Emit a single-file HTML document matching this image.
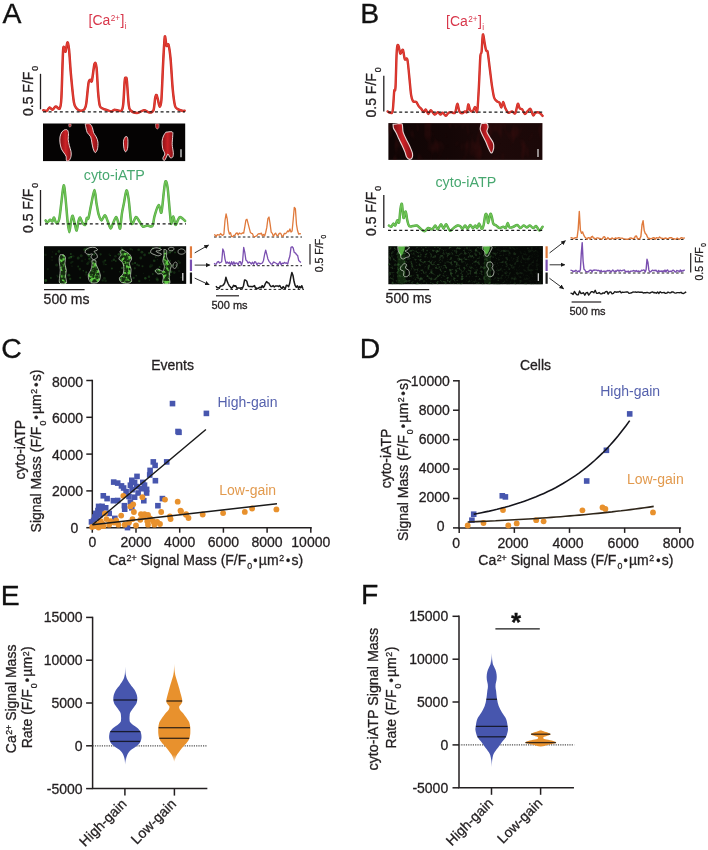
<!DOCTYPE html>
<html><head><meta charset="utf-8"><title>Figure</title>
<style>
html,body{margin:0;padding:0;background:#fff;}
svg{display:block;font-family:"Liberation Sans",Arial,Helvetica,sans-serif;}
</style></head>
<body>
<svg width="708" height="850" viewBox="0 0 708 850">
<rect width="708" height="850" fill="#fff"/>
<g opacity="0.999">
<text x="2.6" y="22.9" font-size="28.4" fill="#111" stroke="#111" stroke-width="0.3">A</text>
<text x="360.3" y="23.1" font-size="28.4" fill="#111" stroke="#111" stroke-width="0.3">B</text>
<text x="1.3" y="357.8" font-size="28.4" fill="#111" stroke="#111" stroke-width="0.3">C</text>
<text x="359.8" y="357.6" font-size="28.4" fill="#111" stroke="#111" stroke-width="0.3">D</text>
<text x="0.8" y="604.7" font-size="28.4" fill="#111" stroke="#111" stroke-width="0.3">E</text>
<text x="361" y="603.6" font-size="28.4" fill="#111" stroke="#111" stroke-width="0.3">F</text>
<text x="88.6" y="25" font-size="14" fill="#d8364a">[Ca<tspan font-size="8.2" dy="-4.2" dx="0.4">2+</tspan><tspan dy="4.2" dx="0.4">]</tspan><tspan font-size="8.2" dy="4" dx="0.3">i</tspan></text>
<path d="M43.3,110.2 C43.8,110.3 45.7,111.2 46.7,110.8 C47.7,110.4 48.7,107.6 49.6,107.4 C50.5,107.2 51.4,109.8 52.4,109.7 C53.4,109.6 54.6,106.8 55.8,106.6 C57.0,106.4 58.8,109.9 59.7,108.5 C60.6,107.1 60.9,107.1 61.4,97.8 C61.9,88.5 62.6,58.0 63.1,50.3 C63.6,42.6 64.4,49.6 64.8,49.8 C65.2,50.0 65.2,52.7 65.6,51.5 C66.0,50.3 66.9,42.8 67.4,42.4 C67.9,42.0 68.4,44.0 69.0,49.2 C69.6,54.4 70.2,66.7 71.0,75.2 C71.8,83.7 73.0,97.0 73.9,102.3 C74.8,107.6 75.6,107.1 76.7,108.5 C77.8,109.9 79.3,110.7 80.6,110.8 C81.9,110.9 83.7,110.3 84.6,109.1 C85.5,107.9 85.7,107.6 86.3,103.4 C86.9,99.2 87.9,86.9 88.5,83.1 C89.1,79.3 89.7,80.1 90.2,79.7 C90.7,79.3 91.2,83.3 91.9,80.8 C92.6,78.3 93.8,66.1 94.5,63.9 C95.2,61.7 95.9,62.8 96.5,67.3 C97.1,71.8 97.6,86.0 98.1,92.1 C98.6,98.2 99.1,103.1 99.8,105.7 C100.5,108.3 101.5,107.8 102.7,108.5 C103.9,109.2 105.8,109.7 107.2,110.2 C108.6,110.7 110.5,111.5 111.7,111.4 C112.9,111.3 113.0,109.8 114.5,109.7 C116.0,109.6 119.9,111.8 121.3,110.8 C122.7,109.8 122.8,108.2 123.3,103.4 C123.8,98.6 124.3,84.9 124.7,80.8 C125.1,76.7 125.4,78.0 125.8,78.0 C126.2,78.0 126.5,76.7 126.9,80.8 C127.3,84.9 128.1,98.7 128.6,103.4 C129.1,108.1 128.9,108.7 130.3,110.2 C131.7,111.7 134.9,113.0 137.1,113.0 C139.3,113.0 141.9,110.3 143.9,110.2 C145.9,110.1 148.0,112.5 149.5,112.5 C151.0,112.5 152.6,112.6 153.5,110.2 C154.4,107.8 154.7,100.2 155.2,97.8 C155.7,95.4 156.2,94.6 156.6,95.0 C157.0,95.4 157.5,98.1 158.0,100.0 C158.5,101.9 159.2,106.8 159.7,106.8 C160.2,106.8 160.9,106.9 161.4,100.0 C161.9,93.1 162.6,74.0 163.1,63.9 C163.6,53.8 164.3,39.7 164.8,36.8 C165.3,33.9 165.9,44.5 166.5,45.8 C167.1,47.1 167.9,42.7 168.5,44.7 C169.1,46.7 169.8,51.1 170.5,58.2 C171.2,65.3 172.0,81.2 172.7,88.8 C173.4,96.4 174.2,102.5 175.0,105.7 C175.8,108.9 176.6,108.3 177.8,109.1 C179.0,109.9 181.2,110.5 182.3,110.8 C183.4,111.1 184.2,110.8 184.6,110.8" fill="none" stroke="#c62a24" stroke-width="2.5" stroke-linejoin="round" stroke-linecap="round"/>
<path d="M43.3,110.2 C43.8,110.3 45.7,111.2 46.7,110.8 C47.7,110.4 48.7,107.6 49.6,107.4 C50.5,107.2 51.4,109.8 52.4,109.7 C53.4,109.6 54.6,106.8 55.8,106.6 C57.0,106.4 58.8,109.9 59.7,108.5 C60.6,107.1 60.9,107.1 61.4,97.8 C61.9,88.5 62.6,58.0 63.1,50.3 C63.6,42.6 64.4,49.6 64.8,49.8 C65.2,50.0 65.2,52.7 65.6,51.5 C66.0,50.3 66.9,42.8 67.4,42.4 C67.9,42.0 68.4,44.0 69.0,49.2 C69.6,54.4 70.2,66.7 71.0,75.2 C71.8,83.7 73.0,97.0 73.9,102.3 C74.8,107.6 75.6,107.1 76.7,108.5 C77.8,109.9 79.3,110.7 80.6,110.8 C81.9,110.9 83.7,110.3 84.6,109.1 C85.5,107.9 85.7,107.6 86.3,103.4 C86.9,99.2 87.9,86.9 88.5,83.1 C89.1,79.3 89.7,80.1 90.2,79.7 C90.7,79.3 91.2,83.3 91.9,80.8 C92.6,78.3 93.8,66.1 94.5,63.9 C95.2,61.7 95.9,62.8 96.5,67.3 C97.1,71.8 97.6,86.0 98.1,92.1 C98.6,98.2 99.1,103.1 99.8,105.7 C100.5,108.3 101.5,107.8 102.7,108.5 C103.9,109.2 105.8,109.7 107.2,110.2 C108.6,110.7 110.5,111.5 111.7,111.4 C112.9,111.3 113.0,109.8 114.5,109.7 C116.0,109.6 119.9,111.8 121.3,110.8 C122.7,109.8 122.8,108.2 123.3,103.4 C123.8,98.6 124.3,84.9 124.7,80.8 C125.1,76.7 125.4,78.0 125.8,78.0 C126.2,78.0 126.5,76.7 126.9,80.8 C127.3,84.9 128.1,98.7 128.6,103.4 C129.1,108.1 128.9,108.7 130.3,110.2 C131.7,111.7 134.9,113.0 137.1,113.0 C139.3,113.0 141.9,110.3 143.9,110.2 C145.9,110.1 148.0,112.5 149.5,112.5 C151.0,112.5 152.6,112.6 153.5,110.2 C154.4,107.8 154.7,100.2 155.2,97.8 C155.7,95.4 156.2,94.6 156.6,95.0 C157.0,95.4 157.5,98.1 158.0,100.0 C158.5,101.9 159.2,106.8 159.7,106.8 C160.2,106.8 160.9,106.9 161.4,100.0 C161.9,93.1 162.6,74.0 163.1,63.9 C163.6,53.8 164.3,39.7 164.8,36.8 C165.3,33.9 165.9,44.5 166.5,45.8 C167.1,47.1 167.9,42.7 168.5,44.7 C169.1,46.7 169.8,51.1 170.5,58.2 C171.2,65.3 172.0,81.2 172.7,88.8 C173.4,96.4 174.2,102.5 175.0,105.7 C175.8,108.9 176.6,108.3 177.8,109.1 C179.0,109.9 181.2,110.5 182.3,110.8 C183.4,111.1 184.2,110.8 184.6,110.8" fill="none" stroke="#e23c33" stroke-width="1.4" stroke-linejoin="round" stroke-linecap="round"/>
<line x1="43" y1="111.9" x2="185" y2="111.9" stroke="#1a1a1a" stroke-width="1.2" stroke-dasharray="3 2.6"/>
<line x1="40.5" y1="73.8" x2="40.5" y2="109.3" stroke="#231f20" stroke-width="1.3"/>
<text transform="translate(32.6,116) rotate(-90)" font-size="14" fill="#231f20" stroke="#231f20" stroke-width="0.3">0.5 F/F<tspan font-size="8.8" dy="5" dx="1">0</tspan></text>
<defs><linearGradient id="rg" x1="0" y1="0" x2="1" y2="0"><stop offset="0" stop-color="#861015"/><stop offset="0.5" stop-color="#cc2227"/><stop offset="1" stop-color="#861015"/></linearGradient></defs>
<rect x="43" y="123.5" width="142.2" height="37.6" fill="#050303"/>
<path d="M64.8,129.7 C65.2,129.7 66.8,129.4 67.4,130.0 C68.0,130.6 68.4,132.1 68.5,133.6 C68.6,135.1 68.1,137.6 68.2,139.5 C68.3,141.4 68.9,143.5 69.3,145.4 C69.7,147.3 70.7,149.6 71.0,151.4 C71.3,153.2 71.3,154.9 71.0,156.4 C70.7,157.9 69.8,159.8 69.1,160.5 C68.4,161.2 67.0,161.2 66.5,160.5 C66.0,159.8 66.5,157.6 66.1,156.4 C65.7,155.2 64.8,154.2 64.0,153.0 C63.2,151.8 62.0,150.4 61.4,148.8 C60.8,147.2 60.2,144.8 60.0,142.9 C59.8,141.0 59.7,138.7 60.0,136.9 C60.3,135.1 61.1,133.1 61.9,131.9 C62.7,130.7 64.3,130.1 64.8,129.7Z" fill="url(#rg)" stroke="#f0dede" stroke-width="0.95" opacity="1"/>
<path d="M85.2,123.9 C85.9,123.9 88.6,123.3 89.8,123.9 C91.0,124.5 91.8,126.2 92.4,127.6 C93.0,129.0 93.0,131.2 93.6,132.7 C94.2,134.2 95.5,135.4 96.2,136.9 C96.9,138.4 97.7,140.1 97.9,142.0 C98.1,143.9 97.9,147.1 97.5,148.8 C97.1,150.5 96.0,152.6 95.3,152.6 C94.6,152.6 93.7,150.4 93.2,148.8 C92.7,147.2 92.3,144.8 91.9,142.9 C91.5,141.0 91.4,138.5 90.7,136.9 C90.0,135.3 88.1,134.1 87.3,132.7 C86.5,131.3 86.3,129.4 86.0,128.0 C85.7,126.6 85.3,124.6 85.2,123.9Z" fill="url(#rg)" stroke="#f0dede" stroke-width="0.95" opacity="1"/>
<path d="M125.1,136.9 C125.4,136.9 126.8,136.2 127.2,136.9 C127.6,137.6 127.9,139.3 127.9,141.2 C127.9,143.1 127.9,146.9 127.5,148.6 C127.1,150.3 126.2,151.8 125.6,151.8 C125.0,151.8 124.3,150.3 124.0,148.6 C123.7,146.9 123.3,143.1 123.5,141.2 C123.7,139.3 124.8,137.6 125.1,136.9Z" fill="url(#rg)" stroke="#f0dede" stroke-width="0.95" opacity="1"/>
<path d="M165.8,132.2 C166.8,132.2 171.1,131.3 172.2,131.9 C173.3,132.5 172.7,133.9 172.7,135.9 C172.7,137.9 172.1,141.7 172.2,144.4 C172.3,147.1 173.2,150.8 173.3,152.8 C173.4,154.8 173.2,156.3 172.7,157.1 C172.2,157.9 170.9,158.1 170.1,157.6 C169.3,157.1 168.6,154.0 168.0,153.9 C167.4,153.8 167.0,156.0 166.4,157.1 C165.8,158.2 164.9,160.4 164.3,160.6 C163.7,160.8 162.8,159.2 162.9,158.1 C163.0,157.0 164.8,155.4 164.8,153.9 C164.8,152.4 163.1,150.6 162.7,148.6 C162.3,146.6 162.0,143.2 162.1,141.2 C162.2,139.2 162.9,137.3 163.5,135.9 C164.1,134.5 165.4,132.8 165.8,132.2Z" fill="url(#rg)" stroke="#f0dede" stroke-width="0.95" opacity="1"/>
<path d="M68.9,124.0 C69.2,124.0 70.6,123.6 70.9,124.0 C71.2,124.4 71.2,125.7 71.0,126.2 C70.8,126.7 70.3,127.0 69.9,127.0 C69.5,127.0 69.0,126.7 68.8,126.2 C68.6,125.7 68.9,124.4 68.9,124.0Z" fill="url(#rg)" stroke="#f0dede" stroke-width="0.5" opacity="1"/>
<path d="M155.5,123.9 C156.0,123.9 158.3,123.3 158.8,123.9 C159.3,124.5 159.0,126.7 158.8,127.5 C158.6,128.3 157.8,129.0 157.3,129.0 C156.8,129.0 156.1,128.3 155.8,127.5 C155.5,126.7 155.5,124.5 155.5,123.9Z" fill="url(#rg)" stroke="#f0dede" stroke-width="0.5" opacity="1"/>
<line x1="181" y1="149.3" x2="181" y2="157.2" stroke="#ececec" stroke-width="1.2"/>
<text x="83.8" y="179.7" font-size="14.3" fill="#48a870">cyto-iATP</text>
<path d="M45.6,220.4 C45.9,220.8 46.6,222.7 47.3,222.6 C48.0,222.5 49.3,220.0 50.1,219.8 C50.9,219.6 51.8,221.9 52.4,221.5 C53.0,221.1 53.5,217.2 54.1,217.5 C54.7,217.8 55.5,222.9 56.3,223.2 C57.1,223.5 58.4,222.5 59.2,219.2 C60.0,215.9 60.7,207.7 61.4,202.3 C62.1,196.9 63.0,185.8 63.7,185.3 C64.4,184.8 65.0,193.1 65.6,198.9 C66.2,204.7 67.0,216.2 67.6,221.5 C68.2,226.8 68.8,232.2 69.3,232.2 C69.8,232.2 70.5,224.1 71.0,221.5 C71.5,218.9 72.1,215.3 72.7,215.8 C73.3,216.3 74.4,222.5 75.0,224.9 C75.6,227.3 76.2,231.0 76.7,230.5 C77.2,230.0 77.9,223.6 78.4,221.5 C78.9,219.4 79.5,217.3 80.1,217.5 C80.7,217.7 81.5,221.4 82.3,222.6 C83.1,223.8 84.5,225.6 85.2,224.9 C85.9,224.2 86.3,219.2 86.8,218.1 C87.3,217.0 87.8,220.5 88.5,218.1 C89.2,215.7 90.4,207.9 91.4,203.4 C92.4,198.9 93.7,189.9 94.5,189.9 C95.3,189.9 95.8,199.4 96.5,203.4 C97.2,207.4 97.9,212.0 98.7,214.7 C99.5,217.4 100.5,220.3 101.5,220.4 C102.5,220.5 103.9,215.1 104.9,215.3 C105.9,215.5 106.9,219.4 107.8,221.5 C108.7,223.6 109.8,227.9 110.6,228.3 C111.4,228.7 111.9,225.6 112.8,223.8 C113.7,222.0 115.3,217.0 116.2,217.0 C117.1,217.0 117.9,222.0 118.5,223.8 C119.1,225.6 119.7,229.9 120.2,228.3 C120.7,226.7 121.3,217.8 121.9,213.6 C122.5,209.4 123.4,206.0 124.1,202.3 C124.8,198.6 125.7,190.9 126.4,190.4 C127.1,189.9 127.9,194.1 128.6,198.9 C129.3,203.7 130.3,216.4 130.9,220.4 C131.5,224.4 131.8,224.3 132.6,223.8 C133.4,223.3 134.9,217.4 136.0,217.0 C137.1,216.6 138.3,220.0 139.4,221.5 C140.5,223.0 141.5,226.0 142.8,226.6 C144.1,227.2 145.8,225.6 147.3,225.5 C148.8,225.4 151.2,227.6 152.4,226.0 C153.6,224.4 153.6,219.1 154.6,215.8 C155.6,212.5 157.5,205.6 158.6,205.1 C159.7,204.6 160.6,214.4 161.4,212.5 C162.2,210.6 163.1,198.2 163.7,193.2 C164.3,188.2 164.8,182.3 165.4,181.4 C166.0,180.5 166.9,182.6 167.6,187.6 C168.3,192.6 169.3,206.7 169.9,212.5 C170.5,218.3 170.7,223.2 171.2,223.8 C171.7,224.4 172.6,216.2 173.3,216.4 C174.0,216.6 174.8,224.3 175.5,224.9 C176.2,225.5 177.1,221.7 177.8,220.4 C178.5,219.1 178.9,216.9 180.1,217.0 C181.3,217.1 184.3,220.3 185.1,220.9" fill="none" stroke="#4ea53e" stroke-width="2.5" stroke-linejoin="round" stroke-linecap="round"/>
<path d="M45.6,220.4 C45.9,220.8 46.6,222.7 47.3,222.6 C48.0,222.5 49.3,220.0 50.1,219.8 C50.9,219.6 51.8,221.9 52.4,221.5 C53.0,221.1 53.5,217.2 54.1,217.5 C54.7,217.8 55.5,222.9 56.3,223.2 C57.1,223.5 58.4,222.5 59.2,219.2 C60.0,215.9 60.7,207.7 61.4,202.3 C62.1,196.9 63.0,185.8 63.7,185.3 C64.4,184.8 65.0,193.1 65.6,198.9 C66.2,204.7 67.0,216.2 67.6,221.5 C68.2,226.8 68.8,232.2 69.3,232.2 C69.8,232.2 70.5,224.1 71.0,221.5 C71.5,218.9 72.1,215.3 72.7,215.8 C73.3,216.3 74.4,222.5 75.0,224.9 C75.6,227.3 76.2,231.0 76.7,230.5 C77.2,230.0 77.9,223.6 78.4,221.5 C78.9,219.4 79.5,217.3 80.1,217.5 C80.7,217.7 81.5,221.4 82.3,222.6 C83.1,223.8 84.5,225.6 85.2,224.9 C85.9,224.2 86.3,219.2 86.8,218.1 C87.3,217.0 87.8,220.5 88.5,218.1 C89.2,215.7 90.4,207.9 91.4,203.4 C92.4,198.9 93.7,189.9 94.5,189.9 C95.3,189.9 95.8,199.4 96.5,203.4 C97.2,207.4 97.9,212.0 98.7,214.7 C99.5,217.4 100.5,220.3 101.5,220.4 C102.5,220.5 103.9,215.1 104.9,215.3 C105.9,215.5 106.9,219.4 107.8,221.5 C108.7,223.6 109.8,227.9 110.6,228.3 C111.4,228.7 111.9,225.6 112.8,223.8 C113.7,222.0 115.3,217.0 116.2,217.0 C117.1,217.0 117.9,222.0 118.5,223.8 C119.1,225.6 119.7,229.9 120.2,228.3 C120.7,226.7 121.3,217.8 121.9,213.6 C122.5,209.4 123.4,206.0 124.1,202.3 C124.8,198.6 125.7,190.9 126.4,190.4 C127.1,189.9 127.9,194.1 128.6,198.9 C129.3,203.7 130.3,216.4 130.9,220.4 C131.5,224.4 131.8,224.3 132.6,223.8 C133.4,223.3 134.9,217.4 136.0,217.0 C137.1,216.6 138.3,220.0 139.4,221.5 C140.5,223.0 141.5,226.0 142.8,226.6 C144.1,227.2 145.8,225.6 147.3,225.5 C148.8,225.4 151.2,227.6 152.4,226.0 C153.6,224.4 153.6,219.1 154.6,215.8 C155.6,212.5 157.5,205.6 158.6,205.1 C159.7,204.6 160.6,214.4 161.4,212.5 C162.2,210.6 163.1,198.2 163.7,193.2 C164.3,188.2 164.8,182.3 165.4,181.4 C166.0,180.5 166.9,182.6 167.6,187.6 C168.3,192.6 169.3,206.7 169.9,212.5 C170.5,218.3 170.7,223.2 171.2,223.8 C171.7,224.4 172.6,216.2 173.3,216.4 C174.0,216.6 174.8,224.3 175.5,224.9 C176.2,225.5 177.1,221.7 177.8,220.4 C178.5,219.1 178.9,216.9 180.1,217.0 C181.3,217.1 184.3,220.3 185.1,220.9" fill="none" stroke="#70c457" stroke-width="1.4" stroke-linejoin="round" stroke-linecap="round"/>
<line x1="45" y1="223.8" x2="186" y2="223.8" stroke="#1a1a1a" stroke-width="1.2" stroke-dasharray="3 2.6"/>
<line x1="40.5" y1="190" x2="40.5" y2="225.8" stroke="#231f20" stroke-width="1.3"/>
<text transform="translate(32.6,233) rotate(-90)" font-size="14" fill="#231f20" stroke="#231f20" stroke-width="0.3">0.5 F/F<tspan font-size="8.8" dy="5" dx="1">0</tspan></text>
<defs><filter id="bl" x="-5%" y="-5%" width="110%" height="110%"><feGaussianBlur stdDeviation="0.45"/></filter></defs>
<rect x="44" y="246.2" width="142.2" height="37.7" fill="#060806"/>
<g filter="url(#bl)"><circle cx="78.2" cy="266.5" r="0.9" fill="#3f9a3a" opacity="0.28"/><circle cx="132.3" cy="249.8" r="0.6" fill="#3f9a3a" opacity="0.35"/><circle cx="81.2" cy="255.7" r="1.5" fill="#3f9a3a" opacity="0.24"/><circle cx="161.7" cy="264.2" r="1.2" fill="#3f9a3a" opacity="0.15"/><circle cx="133.6" cy="277.9" r="1.1" fill="#3f9a3a" opacity="0.32"/><circle cx="138.7" cy="249.7" r="1.3" fill="#3f9a3a" opacity="0.28"/><circle cx="87.0" cy="248.6" r="1.4" fill="#3f9a3a" opacity="0.24"/><circle cx="145.3" cy="278.3" r="1.2" fill="#3f9a3a" opacity="0.38"/><circle cx="100.1" cy="275.5" r="1.0" fill="#3f9a3a" opacity="0.38"/><circle cx="167.6" cy="250.9" r="0.7" fill="#3f9a3a" opacity="0.17"/><circle cx="179.7" cy="262.8" r="1.2" fill="#3f9a3a" opacity="0.19"/><circle cx="115.8" cy="261.0" r="0.9" fill="#3f9a3a" opacity="0.28"/><circle cx="126.5" cy="279.1" r="1.2" fill="#3f9a3a" opacity="0.38"/><circle cx="164.5" cy="282.2" r="1.2" fill="#3f9a3a" opacity="0.15"/><circle cx="165.1" cy="281.3" r="1.4" fill="#3f9a3a" opacity="0.27"/><circle cx="144.6" cy="254.9" r="1.3" fill="#3f9a3a" opacity="0.27"/><circle cx="84.8" cy="249.7" r="1.4" fill="#3f9a3a" opacity="0.40"/><circle cx="57.3" cy="275.5" r="1.0" fill="#3f9a3a" opacity="0.15"/><circle cx="86.0" cy="274.4" r="1.4" fill="#3f9a3a" opacity="0.11"/><circle cx="130.7" cy="249.1" r="1.2" fill="#3f9a3a" opacity="0.20"/><circle cx="167.9" cy="281.8" r="1.1" fill="#3f9a3a" opacity="0.40"/><circle cx="88.2" cy="250.2" r="1.1" fill="#3f9a3a" opacity="0.11"/><circle cx="72.5" cy="261.8" r="1.1" fill="#3f9a3a" opacity="0.15"/><circle cx="50.9" cy="277.9" r="0.9" fill="#3f9a3a" opacity="0.39"/><circle cx="170.1" cy="260.7" r="1.0" fill="#3f9a3a" opacity="0.26"/><circle cx="134.8" cy="268.3" r="1.1" fill="#3f9a3a" opacity="0.29"/><circle cx="176.2" cy="265.2" r="1.0" fill="#3f9a3a" opacity="0.32"/><circle cx="78.2" cy="258.0" r="1.5" fill="#3f9a3a" opacity="0.26"/><circle cx="121.5" cy="247.9" r="1.0" fill="#3f9a3a" opacity="0.27"/><circle cx="47.8" cy="269.1" r="1.2" fill="#3f9a3a" opacity="0.12"/><circle cx="132.5" cy="263.8" r="1.2" fill="#3f9a3a" opacity="0.21"/><circle cx="143.6" cy="273.3" r="0.6" fill="#3f9a3a" opacity="0.12"/><circle cx="139.3" cy="281.2" r="0.8" fill="#3f9a3a" opacity="0.24"/><circle cx="127.7" cy="258.7" r="0.9" fill="#3f9a3a" opacity="0.19"/><circle cx="96.5" cy="268.3" r="0.9" fill="#3f9a3a" opacity="0.21"/><circle cx="152.7" cy="248.4" r="1.1" fill="#3f9a3a" opacity="0.32"/><circle cx="88.2" cy="255.3" r="1.3" fill="#3f9a3a" opacity="0.17"/><circle cx="71.1" cy="262.7" r="1.2" fill="#3f9a3a" opacity="0.13"/><circle cx="89.9" cy="259.2" r="1.4" fill="#3f9a3a" opacity="0.23"/><circle cx="164.3" cy="253.4" r="0.9" fill="#3f9a3a" opacity="0.30"/><circle cx="168.4" cy="263.3" r="0.8" fill="#3f9a3a" opacity="0.14"/><circle cx="118.9" cy="254.2" r="1.3" fill="#3f9a3a" opacity="0.35"/><circle cx="70.6" cy="257.3" r="1.3" fill="#3f9a3a" opacity="0.29"/><circle cx="157.5" cy="259.6" r="0.7" fill="#3f9a3a" opacity="0.19"/><circle cx="155.7" cy="257.0" r="0.9" fill="#3f9a3a" opacity="0.23"/><circle cx="103.6" cy="261.8" r="1.4" fill="#3f9a3a" opacity="0.15"/><circle cx="45.7" cy="280.5" r="1.4" fill="#3f9a3a" opacity="0.40"/><circle cx="105.6" cy="280.8" r="1.4" fill="#3f9a3a" opacity="0.17"/><circle cx="149.0" cy="276.8" r="1.2" fill="#3f9a3a" opacity="0.26"/><circle cx="85.3" cy="259.4" r="0.8" fill="#3f9a3a" opacity="0.12"/><circle cx="127.1" cy="257.5" r="1.3" fill="#3f9a3a" opacity="0.11"/><circle cx="171.1" cy="271.8" r="1.4" fill="#3f9a3a" opacity="0.37"/><circle cx="170.5" cy="267.7" r="0.6" fill="#3f9a3a" opacity="0.32"/><circle cx="69.0" cy="258.0" r="1.2" fill="#3f9a3a" opacity="0.26"/><circle cx="102.7" cy="280.4" r="1.2" fill="#3f9a3a" opacity="0.20"/><circle cx="80.2" cy="277.7" r="1.0" fill="#3f9a3a" opacity="0.33"/><circle cx="94.1" cy="254.4" r="1.1" fill="#3f9a3a" opacity="0.35"/><circle cx="68.9" cy="275.2" r="1.4" fill="#3f9a3a" opacity="0.34"/><circle cx="159.9" cy="247.8" r="1.2" fill="#3f9a3a" opacity="0.36"/><circle cx="52.0" cy="257.0" r="0.8" fill="#3f9a3a" opacity="0.26"/><circle cx="104.0" cy="264.1" r="1.3" fill="#3f9a3a" opacity="0.10"/><circle cx="52.6" cy="251.9" r="0.7" fill="#3f9a3a" opacity="0.12"/><circle cx="181.0" cy="277.4" r="0.7" fill="#3f9a3a" opacity="0.25"/><circle cx="89.1" cy="258.5" r="0.9" fill="#3f9a3a" opacity="0.29"/><circle cx="126.8" cy="260.1" r="0.8" fill="#3f9a3a" opacity="0.20"/><circle cx="62.3" cy="266.9" r="1.2" fill="#3f9a3a" opacity="0.21"/><circle cx="56.1" cy="253.7" r="0.9" fill="#3f9a3a" opacity="0.28"/><circle cx="154.2" cy="260.8" r="1.3" fill="#3f9a3a" opacity="0.29"/><circle cx="105.2" cy="260.5" r="1.0" fill="#3f9a3a" opacity="0.31"/><circle cx="103.7" cy="271.8" r="1.0" fill="#3f9a3a" opacity="0.17"/><circle cx="119.7" cy="271.8" r="0.7" fill="#3f9a3a" opacity="0.23"/><circle cx="104.4" cy="278.3" r="1.4" fill="#3f9a3a" opacity="0.21"/><circle cx="170.3" cy="275.2" r="0.8" fill="#3f9a3a" opacity="0.24"/><circle cx="62.2" cy="276.0" r="1.2" fill="#3f9a3a" opacity="0.37"/><circle cx="155.5" cy="270.9" r="1.3" fill="#3f9a3a" opacity="0.27"/><circle cx="59.4" cy="268.1" r="0.6" fill="#3f9a3a" opacity="0.14"/><circle cx="153.0" cy="249.1" r="0.7" fill="#3f9a3a" opacity="0.13"/><circle cx="167.8" cy="253.8" r="0.6" fill="#3f9a3a" opacity="0.35"/><circle cx="61.9" cy="277.0" r="1.2" fill="#3f9a3a" opacity="0.35"/><circle cx="177.9" cy="267.8" r="1.3" fill="#3f9a3a" opacity="0.11"/><circle cx="152.1" cy="265.4" r="1.2" fill="#3f9a3a" opacity="0.13"/><circle cx="149.5" cy="280.2" r="0.7" fill="#3f9a3a" opacity="0.20"/><circle cx="123.7" cy="276.5" r="0.8" fill="#3f9a3a" opacity="0.15"/><circle cx="79.9" cy="269.1" r="1.3" fill="#3f9a3a" opacity="0.22"/><circle cx="96.3" cy="261.4" r="0.9" fill="#3f9a3a" opacity="0.23"/><circle cx="56.6" cy="265.0" r="1.5" fill="#3f9a3a" opacity="0.22"/><circle cx="149.3" cy="253.1" r="1.2" fill="#3f9a3a" opacity="0.33"/><circle cx="139.0" cy="265.6" r="1.0" fill="#3f9a3a" opacity="0.29"/><circle cx="170.2" cy="252.7" r="0.7" fill="#3f9a3a" opacity="0.32"/><circle cx="172.9" cy="265.6" r="1.0" fill="#3f9a3a" opacity="0.32"/><circle cx="71.0" cy="256.9" r="0.8" fill="#3f9a3a" opacity="0.28"/><circle cx="88.9" cy="255.6" r="1.2" fill="#3f9a3a" opacity="0.39"/><circle cx="86.3" cy="272.2" r="1.0" fill="#3f9a3a" opacity="0.36"/><circle cx="126.6" cy="256.9" r="0.8" fill="#3f9a3a" opacity="0.11"/><circle cx="111.9" cy="260.9" r="0.8" fill="#3f9a3a" opacity="0.21"/><circle cx="89.9" cy="274.6" r="0.7" fill="#3f9a3a" opacity="0.40"/><circle cx="111.9" cy="268.5" r="1.0" fill="#3f9a3a" opacity="0.35"/><circle cx="159.6" cy="267.0" r="1.0" fill="#3f9a3a" opacity="0.32"/><circle cx="164.5" cy="261.5" r="1.3" fill="#3f9a3a" opacity="0.39"/><circle cx="110.2" cy="255.5" r="0.8" fill="#3f9a3a" opacity="0.32"/><circle cx="139.2" cy="281.1" r="1.4" fill="#3f9a3a" opacity="0.17"/><circle cx="71.5" cy="256.6" r="0.8" fill="#3f9a3a" opacity="0.31"/><circle cx="164.8" cy="279.0" r="0.8" fill="#3f9a3a" opacity="0.36"/><circle cx="88.7" cy="262.3" r="1.3" fill="#3f9a3a" opacity="0.13"/><circle cx="57.9" cy="276.7" r="0.9" fill="#3f9a3a" opacity="0.21"/><circle cx="126.0" cy="271.1" r="0.6" fill="#3f9a3a" opacity="0.20"/><circle cx="105.9" cy="264.5" r="0.8" fill="#3f9a3a" opacity="0.28"/><circle cx="178.3" cy="261.2" r="1.1" fill="#3f9a3a" opacity="0.14"/><circle cx="83.3" cy="270.8" r="0.7" fill="#3f9a3a" opacity="0.37"/><circle cx="171.8" cy="250.9" r="1.4" fill="#3f9a3a" opacity="0.21"/><circle cx="152.8" cy="274.0" r="0.9" fill="#3f9a3a" opacity="0.30"/><circle cx="136.2" cy="275.7" r="0.8" fill="#3f9a3a" opacity="0.33"/><circle cx="179.1" cy="271.0" r="1.1" fill="#3f9a3a" opacity="0.13"/><circle cx="113.9" cy="259.8" r="1.2" fill="#3f9a3a" opacity="0.30"/><circle cx="124.0" cy="253.9" r="1.2" fill="#3f9a3a" opacity="0.29"/><circle cx="70.0" cy="278.6" r="1.2" fill="#3f9a3a" opacity="0.14"/><circle cx="175.0" cy="252.4" r="0.9" fill="#3f9a3a" opacity="0.32"/><circle cx="128.3" cy="266.9" r="1.2" fill="#3f9a3a" opacity="0.24"/><circle cx="88.6" cy="253.7" r="0.7" fill="#3f9a3a" opacity="0.31"/><circle cx="150.3" cy="266.5" r="1.3" fill="#3f9a3a" opacity="0.21"/><circle cx="82.1" cy="260.9" r="1.4" fill="#3f9a3a" opacity="0.11"/><circle cx="115.4" cy="256.2" r="1.3" fill="#3f9a3a" opacity="0.21"/><circle cx="91.4" cy="261.6" r="1.1" fill="#3f9a3a" opacity="0.33"/><circle cx="94.2" cy="277.1" r="0.7" fill="#3f9a3a" opacity="0.18"/><circle cx="58.9" cy="251.4" r="1.3" fill="#3f9a3a" opacity="0.32"/><circle cx="70.8" cy="254.1" r="1.0" fill="#3f9a3a" opacity="0.32"/><circle cx="158.8" cy="273.7" r="1.1" fill="#3f9a3a" opacity="0.14"/><circle cx="100.6" cy="254.3" r="1.1" fill="#3f9a3a" opacity="0.27"/><circle cx="73.2" cy="256.3" r="1.3" fill="#3f9a3a" opacity="0.11"/><circle cx="157.0" cy="278.7" r="1.5" fill="#3f9a3a" opacity="0.21"/><circle cx="122.1" cy="267.9" r="1.2" fill="#3f9a3a" opacity="0.39"/><circle cx="140.8" cy="258.0" r="1.4" fill="#3f9a3a" opacity="0.25"/><circle cx="128.9" cy="272.9" r="0.6" fill="#3f9a3a" opacity="0.33"/><circle cx="137.3" cy="264.7" r="1.1" fill="#3f9a3a" opacity="0.24"/><circle cx="72.0" cy="266.0" r="0.6" fill="#3f9a3a" opacity="0.25"/><circle cx="135.1" cy="263.0" r="1.1" fill="#3f9a3a" opacity="0.39"/><circle cx="169.4" cy="252.2" r="1.3" fill="#3f9a3a" opacity="0.29"/><circle cx="52.1" cy="260.1" r="0.8" fill="#3f9a3a" opacity="0.12"/><circle cx="120.2" cy="280.0" r="0.9" fill="#3f9a3a" opacity="0.36"/><circle cx="141.9" cy="252.2" r="1.4" fill="#3f9a3a" opacity="0.28"/><circle cx="174.3" cy="272.6" r="1.3" fill="#3f9a3a" opacity="0.20"/><circle cx="157.5" cy="280.1" r="1.4" fill="#3f9a3a" opacity="0.23"/><circle cx="150.6" cy="264.5" r="0.7" fill="#3f9a3a" opacity="0.11"/><circle cx="55.9" cy="254.5" r="0.7" fill="#3f9a3a" opacity="0.25"/><circle cx="142.5" cy="266.3" r="1.0" fill="#3f9a3a" opacity="0.29"/><circle cx="87.5" cy="263.8" r="1.3" fill="#3f9a3a" opacity="0.22"/><circle cx="70.2" cy="279.0" r="1.2" fill="#3f9a3a" opacity="0.21"/><circle cx="96.8" cy="266.0" r="1.1" fill="#3f9a3a" opacity="0.17"/><circle cx="45.4" cy="254.8" r="1.3" fill="#3f9a3a" opacity="0.14"/><circle cx="109.2" cy="254.3" r="0.8" fill="#3f9a3a" opacity="0.15"/></g>
<defs><filter id="mt" x="-10%" y="-10%" width="120%" height="120%" color-interpolation-filters="sRGB"><feTurbulence type="fractalNoise" baseFrequency="0.32" numOctaves="2" seed="4" result="n"/><feColorMatrix in="n" type="matrix" values="0 0 0 0 0  0 0 0 0 0  0 0 0 0 0  0 0 0 -4.5 2.45" result="a"/><feComposite in="SourceGraphic" in2="a" operator="in"/></filter></defs>
<path d="M60.0,254.8 C60.6,254.8 62.6,254.3 63.5,254.8 C64.4,255.3 65.3,256.5 65.5,258.0 C65.7,259.5 64.9,262.1 65.0,264.0 C65.1,265.9 66.2,268.1 66.3,270.0 C66.4,271.9 65.6,273.9 65.6,276.0 C65.6,278.1 67.2,282.0 66.3,283.2 C65.4,284.4 60.9,284.2 59.8,283.2 C58.7,282.2 59.5,279.1 59.6,277.0 C59.7,274.9 60.3,272.2 60.3,270.0 C60.3,267.8 59.6,264.9 59.4,263.0 C59.2,261.1 59.1,259.3 59.2,258.0 C59.3,256.7 59.9,255.3 60.0,254.8Z" fill="#2a6420" opacity="0.42"/>
<path d="M60.0,254.8 C60.6,254.8 62.6,254.3 63.5,254.8 C64.4,255.3 65.3,256.5 65.5,258.0 C65.7,259.5 64.9,262.1 65.0,264.0 C65.1,265.9 66.2,268.1 66.3,270.0 C66.4,271.9 65.6,273.9 65.6,276.0 C65.6,278.1 67.2,282.0 66.3,283.2 C65.4,284.4 60.9,284.2 59.8,283.2 C58.7,282.2 59.5,279.1 59.6,277.0 C59.7,274.9 60.3,272.2 60.3,270.0 C60.3,267.8 59.6,264.9 59.4,263.0 C59.2,261.1 59.1,259.3 59.2,258.0 C59.3,256.7 59.9,255.3 60.0,254.8Z" fill="#5cc742" filter="url(#mt)"/>
<path d="M60.0,254.8 C60.6,254.8 62.6,254.3 63.5,254.8 C64.4,255.3 65.3,256.5 65.5,258.0 C65.7,259.5 64.9,262.1 65.0,264.0 C65.1,265.9 66.2,268.1 66.3,270.0 C66.4,271.9 65.6,273.9 65.6,276.0 C65.6,278.1 67.2,282.0 66.3,283.2 C65.4,284.4 60.9,284.2 59.8,283.2 C58.7,282.2 59.5,279.1 59.6,277.0 C59.7,274.9 60.3,272.2 60.3,270.0 C60.3,267.8 59.6,264.9 59.4,263.0 C59.2,261.1 59.1,259.3 59.2,258.0 C59.3,256.7 59.9,255.3 60.0,254.8Z" fill="none" stroke="#dfe6da" stroke-width="0.7" opacity="0.9"/>
<path d="M86.0,249.5 C86.6,249.2 88.6,247.9 90.0,247.6 C91.4,247.3 93.8,247.1 95.0,247.5 C96.2,247.9 97.7,249.4 97.5,250.0 C97.3,250.6 94.2,250.9 94.0,251.5 C93.8,252.1 96.0,253.0 96.5,254.0 C97.0,255.0 97.7,256.6 97.2,257.5 C96.7,258.4 94.5,259.6 93.5,259.5 C92.5,259.4 91.2,257.9 91.0,257.0 C90.8,256.1 92.9,254.4 92.5,254.0 C92.1,253.6 89.7,254.7 88.5,254.5 C87.3,254.3 85.6,253.3 85.2,252.5 C84.8,251.7 85.9,250.0 86.0,249.5Z" fill="none" stroke="#dfe6da" stroke-width="0.7"/>
<path d="M92.0,260.3 C92.6,260.3 94.8,259.7 95.5,260.5 C96.2,261.3 95.8,263.6 96.3,265.0 C96.8,266.4 97.9,267.9 98.5,269.5 C99.1,271.1 100.1,273.3 100.3,275.0 C100.5,276.7 100.2,278.8 99.6,280.0 C99.0,281.2 97.8,282.4 96.5,282.8 C95.2,283.2 92.7,283.3 91.5,282.8 C90.3,282.3 89.3,280.8 88.8,279.5 C88.3,278.2 88.0,276.0 88.3,274.5 C88.6,273.0 90.2,271.5 90.8,270.0 C91.4,268.5 91.8,266.6 92.0,265.0 C92.2,263.4 92.0,261.1 92.0,260.3Z" fill="#2a6420" opacity="0.42"/>
<path d="M92.0,260.3 C92.6,260.3 94.8,259.7 95.5,260.5 C96.2,261.3 95.8,263.6 96.3,265.0 C96.8,266.4 97.9,267.9 98.5,269.5 C99.1,271.1 100.1,273.3 100.3,275.0 C100.5,276.7 100.2,278.8 99.6,280.0 C99.0,281.2 97.8,282.4 96.5,282.8 C95.2,283.2 92.7,283.3 91.5,282.8 C90.3,282.3 89.3,280.8 88.8,279.5 C88.3,278.2 88.0,276.0 88.3,274.5 C88.6,273.0 90.2,271.5 90.8,270.0 C91.4,268.5 91.8,266.6 92.0,265.0 C92.2,263.4 92.0,261.1 92.0,260.3Z" fill="#5cc742" filter="url(#mt)"/>
<path d="M92.0,260.3 C92.6,260.3 94.8,259.7 95.5,260.5 C96.2,261.3 95.8,263.6 96.3,265.0 C96.8,266.4 97.9,267.9 98.5,269.5 C99.1,271.1 100.1,273.3 100.3,275.0 C100.5,276.7 100.2,278.8 99.6,280.0 C99.0,281.2 97.8,282.4 96.5,282.8 C95.2,283.2 92.7,283.3 91.5,282.8 C90.3,282.3 89.3,280.8 88.8,279.5 C88.3,278.2 88.0,276.0 88.3,274.5 C88.6,273.0 90.2,271.5 90.8,270.0 C91.4,268.5 91.8,266.6 92.0,265.0 C92.2,263.4 92.0,261.1 92.0,260.3Z" fill="none" stroke="#dfe6da" stroke-width="0.7" opacity="0.9"/>
<path d="M122.1,249.4 C122.7,249.7 124.5,250.7 125.8,251.5 C127.1,252.3 129.1,253.5 130.0,254.7 C130.9,255.9 131.7,257.6 131.6,259.0 C131.5,260.4 129.6,261.5 129.5,263.2 C129.4,264.9 130.9,267.5 131.1,269.5 C131.3,271.5 130.4,274.0 130.5,275.9 C130.6,277.8 132.0,280.0 131.6,281.2 C131.2,282.4 129.5,283.1 127.9,283.3 C126.3,283.5 122.9,283.1 121.5,282.3 C120.1,281.5 119.1,279.4 119.4,278.0 C119.7,276.6 122.4,275.7 123.1,273.8 C123.8,271.9 123.9,268.3 123.7,266.4 C123.5,264.5 122.9,263.3 122.1,262.1 C121.3,260.9 119.1,260.1 118.9,258.9 C118.7,257.7 120.8,255.9 121.0,254.7 C121.2,253.5 119.8,252.3 120.0,251.5 C120.2,250.7 121.8,249.7 122.1,249.4Z" fill="#2a6420" opacity="0.42"/>
<path d="M122.1,249.4 C122.7,249.7 124.5,250.7 125.8,251.5 C127.1,252.3 129.1,253.5 130.0,254.7 C130.9,255.9 131.7,257.6 131.6,259.0 C131.5,260.4 129.6,261.5 129.5,263.2 C129.4,264.9 130.9,267.5 131.1,269.5 C131.3,271.5 130.4,274.0 130.5,275.9 C130.6,277.8 132.0,280.0 131.6,281.2 C131.2,282.4 129.5,283.1 127.9,283.3 C126.3,283.5 122.9,283.1 121.5,282.3 C120.1,281.5 119.1,279.4 119.4,278.0 C119.7,276.6 122.4,275.7 123.1,273.8 C123.8,271.9 123.9,268.3 123.7,266.4 C123.5,264.5 122.9,263.3 122.1,262.1 C121.3,260.9 119.1,260.1 118.9,258.9 C118.7,257.7 120.8,255.9 121.0,254.7 C121.2,253.5 119.8,252.3 120.0,251.5 C120.2,250.7 121.8,249.7 122.1,249.4Z" fill="#5cc742" filter="url(#mt)"/>
<path d="M122.1,249.4 C122.7,249.7 124.5,250.7 125.8,251.5 C127.1,252.3 129.1,253.5 130.0,254.7 C130.9,255.9 131.7,257.6 131.6,259.0 C131.5,260.4 129.6,261.5 129.5,263.2 C129.4,264.9 130.9,267.5 131.1,269.5 C131.3,271.5 130.4,274.0 130.5,275.9 C130.6,277.8 132.0,280.0 131.6,281.2 C131.2,282.4 129.5,283.1 127.9,283.3 C126.3,283.5 122.9,283.1 121.5,282.3 C120.1,281.5 119.1,279.4 119.4,278.0 C119.7,276.6 122.4,275.7 123.1,273.8 C123.8,271.9 123.9,268.3 123.7,266.4 C123.5,264.5 122.9,263.3 122.1,262.1 C121.3,260.9 119.1,260.1 118.9,258.9 C118.7,257.7 120.8,255.9 121.0,254.7 C121.2,253.5 119.8,252.3 120.0,251.5 C120.2,250.7 121.8,249.7 122.1,249.4Z" fill="none" stroke="#dfe6da" stroke-width="0.7" opacity="0.9"/>
<path d="M161.5,249.5 C160.8,249.2 158.5,247.9 157.0,247.8 C155.5,247.7 153.0,248.2 152.0,249.0 C151.0,249.8 150.4,251.6 150.7,252.5 C151.0,253.4 152.8,254.0 154.0,254.5 C155.2,255.0 157.3,255.9 158.5,255.8 C159.7,255.7 161.7,254.5 161.5,254.0 C161.3,253.5 158.4,253.0 157.5,252.5 C156.6,252.0 155.8,251.3 156.0,251.0 C156.2,250.7 158.1,251.0 159.0,250.8 C159.9,250.6 161.1,249.7 161.5,249.5Z" fill="none" stroke="#dfe6da" stroke-width="0.7"/>
<path d="M168.3,248.5 C168.7,248.3 170.1,247.3 171.0,247.3 C171.9,247.3 173.7,247.8 174.0,248.3 C174.3,248.8 173.7,250.1 173.0,250.5 C172.3,250.9 170.3,250.9 169.5,250.6 C168.7,250.3 168.5,248.8 168.3,248.5Z" fill="none" stroke="#dfe6da" stroke-width="0.6"/>
<path d="M178.0,250.5 C178.5,250.2 180.0,249.0 181.0,248.9 C182.0,248.8 183.9,249.4 184.5,250.0 C185.1,250.6 185.4,252.1 185.0,252.8 C184.6,253.5 183.0,254.1 182.0,254.2 C181.0,254.3 179.1,253.9 178.5,253.3 C177.9,252.7 178.1,250.9 178.0,250.5Z" fill="none" stroke="#dfe6da" stroke-width="0.6"/>
<path d="M173.2,264.0 C173.6,263.7 174.9,262.2 175.5,262.1 C176.1,262.0 176.9,262.7 177.1,263.5 C177.3,264.3 176.9,266.2 176.5,267.0 C176.1,267.8 174.9,268.5 174.3,268.5 C173.7,268.5 173.1,267.7 172.9,267.0 C172.7,266.3 173.2,264.5 173.2,264.0Z" fill="none" stroke="#dfe6da" stroke-width="0.6"/>
<path d="M163.9,249.4 C164.3,249.6 166.2,249.3 166.6,250.5 C167.0,251.7 166.3,255.1 166.6,256.8 C166.9,258.5 167.9,259.6 168.7,261.0 C169.5,262.4 171.0,263.9 171.3,265.3 C171.6,266.7 170.6,267.6 170.3,269.5 C170.0,271.4 169.3,274.8 169.2,277.0 C169.1,279.2 170.7,282.3 169.7,283.3 C168.7,284.3 163.8,284.3 162.8,283.3 C161.8,282.3 163.6,278.5 163.4,277.0 C163.2,275.5 162.7,274.3 161.8,273.8 C160.9,273.3 158.6,274.3 157.6,273.8 C156.6,273.3 155.3,271.4 155.4,270.6 C155.5,269.8 156.9,268.9 158.1,269.0 C159.3,269.1 161.8,271.5 162.8,271.1 C163.8,270.7 164.4,268.0 164.4,266.4 C164.4,264.8 162.9,262.7 162.8,261.0 C162.7,259.3 163.7,257.7 163.9,255.8 C164.1,253.9 163.9,250.4 163.9,249.4Z" fill="#2a6420" opacity="0.42"/>
<path d="M163.9,249.4 C164.3,249.6 166.2,249.3 166.6,250.5 C167.0,251.7 166.3,255.1 166.6,256.8 C166.9,258.5 167.9,259.6 168.7,261.0 C169.5,262.4 171.0,263.9 171.3,265.3 C171.6,266.7 170.6,267.6 170.3,269.5 C170.0,271.4 169.3,274.8 169.2,277.0 C169.1,279.2 170.7,282.3 169.7,283.3 C168.7,284.3 163.8,284.3 162.8,283.3 C161.8,282.3 163.6,278.5 163.4,277.0 C163.2,275.5 162.7,274.3 161.8,273.8 C160.9,273.3 158.6,274.3 157.6,273.8 C156.6,273.3 155.3,271.4 155.4,270.6 C155.5,269.8 156.9,268.9 158.1,269.0 C159.3,269.1 161.8,271.5 162.8,271.1 C163.8,270.7 164.4,268.0 164.4,266.4 C164.4,264.8 162.9,262.7 162.8,261.0 C162.7,259.3 163.7,257.7 163.9,255.8 C164.1,253.9 163.9,250.4 163.9,249.4Z" fill="#5cc742" filter="url(#mt)"/>
<path d="M163.9,249.4 C164.3,249.6 166.2,249.3 166.6,250.5 C167.0,251.7 166.3,255.1 166.6,256.8 C166.9,258.5 167.9,259.6 168.7,261.0 C169.5,262.4 171.0,263.9 171.3,265.3 C171.6,266.7 170.6,267.6 170.3,269.5 C170.0,271.4 169.3,274.8 169.2,277.0 C169.1,279.2 170.7,282.3 169.7,283.3 C168.7,284.3 163.8,284.3 162.8,283.3 C161.8,282.3 163.6,278.5 163.4,277.0 C163.2,275.5 162.7,274.3 161.8,273.8 C160.9,273.3 158.6,274.3 157.6,273.8 C156.6,273.3 155.3,271.4 155.4,270.6 C155.5,269.8 156.9,268.9 158.1,269.0 C159.3,269.1 161.8,271.5 162.8,271.1 C163.8,270.7 164.4,268.0 164.4,266.4 C164.4,264.8 162.9,262.7 162.8,261.0 C162.7,259.3 163.7,257.7 163.9,255.8 C164.1,253.9 163.9,250.4 163.9,249.4Z" fill="none" stroke="#dfe6da" stroke-width="0.7" opacity="0.9"/>
<line x1="182.8" y1="273" x2="182.8" y2="280.8" stroke="#ececec" stroke-width="1.2"/>
<line x1="44" y1="289.6" x2="84.6" y2="289.6" stroke="#231f20" stroke-width="1.3"/>
<text x="43.6" y="303.6" font-size="14" fill="#231f20" stroke="#231f20" stroke-width="0.3">500 ms</text>
<line x1="190.95" y1="246.3" x2="190.95" y2="258.2" stroke="#e07a3c" stroke-width="2.2"/>
<line x1="190.95" y1="259.6" x2="190.95" y2="271" stroke="#7a4fb0" stroke-width="2.2"/>
<line x1="190.95" y1="272.5" x2="190.95" y2="283.8" stroke="#1a1a1a" stroke-width="2.2"/>
<defs><marker id="ah" viewBox="0 0 10 10" refX="8" refY="5" markerWidth="5.5" markerHeight="5.5" orient="auto"><path d="M0,0.5 L10,5 L0,9.5 Z" fill="#1a1a1a"/></marker></defs>
<line x1="194.7" y1="252.9" x2="208.3" y2="245.2" stroke="#1a1a1a" stroke-width="0.9" marker-end="url(#ah)"/>
<line x1="194.7" y1="265.1" x2="209.6" y2="265.1" stroke="#1a1a1a" stroke-width="0.9" marker-end="url(#ah)"/>
<line x1="194.7" y1="278.1" x2="208.9" y2="284.7" stroke="#1a1a1a" stroke-width="0.9" marker-end="url(#ah)"/>
<line x1="214" y1="237" x2="302" y2="237" stroke="#1a1a1a" stroke-width="1.0" stroke-dasharray="2.6 2.2"/>
<path d="M214.0,234.6 L215.1,235.0 L216.2,236.5 L217.3,234.7 L218.4,234.8 L219.5,235.1 L220.6,233.5 L221.7,234.8 L222.8,235.3 L223.9,234.1 L225.0,220.5 L226.1,213.8 L227.2,218.8 L228.3,229.8 L229.4,234.0 L230.5,232.7 L231.6,236.7 L232.7,236.7 L233.8,235.4 L234.9,235.3 L236.0,233.4 L237.1,232.9 L238.2,234.9 L239.3,233.0 L240.4,233.6 L241.5,233.8 L242.6,232.8 L243.7,233.2 L244.8,226.8 L245.9,220.1 L247.0,219.3 L248.1,223.7 L249.2,227.9 L250.3,232.2 L251.4,233.4 L252.5,233.6 L253.6,236.7 L254.7,236.8 L255.8,236.2 L256.9,235.6 L258.0,234.1 L259.1,233.7 L260.2,234.0 L261.3,233.1 L262.4,235.9 L263.5,234.4 L264.6,236.0 L265.7,232.5 L266.8,227.4 L267.9,218.7 L269.0,217.0 L270.1,223.8 L271.2,232.1 L272.3,233.4 L273.4,236.4 L274.5,234.3 L275.6,233.1 L276.7,235.3 L277.8,235.9 L278.9,233.9 L280.0,233.1 L281.1,234.1 L282.2,236.7 L283.3,235.8 L284.4,233.3 L285.5,233.7 L286.6,232.6 L287.7,230.9 L288.8,231.7 L289.9,228.9 L291.0,232.1 L292.1,231.1 L293.2,219.7 L294.3,207.3 L295.4,208.7 L296.5,224.6 L297.6,230.8 L298.7,234.2 L299.8,233.6 L300.9,233.9" fill="none" stroke="#e07a3c" stroke-width="1.3" stroke-linejoin="round"/>
<line x1="214" y1="265.7" x2="302" y2="265.7" stroke="#1a1a1a" stroke-width="1.0" stroke-dasharray="2.6 2.2"/>
<path d="M214.0,263.4 L215.1,264.1 L216.2,264.2 L217.3,262.1 L218.4,261.5 L219.5,263.0 L220.6,262.5 L221.7,261.8 L222.8,249.0 L223.9,251.5 L225.0,259.1 L226.1,263.3 L227.2,262.0 L228.3,263.3 L229.4,262.1 L230.5,265.1 L231.6,261.7 L232.7,264.8 L233.8,261.8 L234.9,264.2 L236.0,262.8 L237.1,263.1 L238.2,264.9 L239.3,261.6 L240.4,261.7 L241.5,265.1 L242.6,261.3 L243.7,247.3 L244.8,252.4 L245.9,260.1 L247.0,261.0 L248.1,263.1 L249.2,262.0 L250.3,262.8 L251.4,264.0 L252.5,262.2 L253.6,264.3 L254.7,261.7 L255.8,262.2 L256.9,264.8 L258.0,263.1 L259.1,263.2 L260.2,263.9 L261.3,263.4 L262.4,263.0 L263.5,260.4 L264.6,254.5 L265.7,250.1 L266.8,254.4 L267.9,258.9 L269.0,261.3 L270.1,262.6 L271.2,264.2 L272.3,264.2 L273.4,262.0 L274.5,262.4 L275.6,263.0 L276.7,263.5 L277.8,264.7 L278.9,263.5 L280.0,261.6 L281.1,264.8 L282.2,263.2 L283.3,263.6 L284.4,262.4 L285.5,263.2 L286.6,263.0 L287.7,264.1 L288.8,259.5 L289.9,256.0 L291.0,247.4 L292.1,246.7 L293.2,248.0 L294.3,252.7 L295.4,252.8 L296.5,254.7 L297.6,255.4 L298.7,260.4 L299.8,261.4 L300.9,262.4" fill="none" stroke="#7a4fb0" stroke-width="1.3" stroke-linejoin="round"/>
<line x1="216" y1="289.4" x2="304" y2="289.4" stroke="#1a1a1a" stroke-width="1.0" stroke-dasharray="2.6 2.2"/>
<path d="M216.0,286.1 L217.1,287.7 L218.2,287.7 L219.3,288.3 L220.4,285.9 L221.5,286.0 L222.6,285.6 L223.7,284.7 L224.8,282.6 L225.9,277.3 L227.0,280.9 L228.1,283.5 L229.2,285.7 L230.3,286.7 L231.4,288.2 L232.5,287.4 L233.6,285.3 L234.7,286.2 L235.8,285.7 L236.9,288.3 L238.0,288.1 L239.1,288.1 L240.2,288.2 L241.3,287.8 L242.4,288.2 L243.5,285.7 L244.6,279.9 L245.7,280.3 L246.8,281.3 L247.9,285.5 L249.0,286.6 L250.1,286.6 L251.2,286.5 L252.3,286.7 L253.4,286.3 L254.5,285.6 L255.6,288.2 L256.7,288.1 L257.8,288.7 L258.9,287.7 L260.0,287.2 L261.1,287.9 L262.2,285.7 L263.3,287.5 L264.4,286.0 L265.5,283.3 L266.6,281.6 L267.7,282.8 L268.8,283.0 L269.9,285.1 L271.0,286.6 L272.1,286.4 L273.2,285.6 L274.3,287.0 L275.4,286.0 L276.5,286.0 L277.6,285.9 L278.7,286.5 L279.8,285.5 L280.9,287.5 L282.0,288.6 L283.1,286.6 L284.2,287.8 L285.3,288.6 L286.4,285.3 L287.5,285.5 L288.6,286.7 L289.7,283.3 L290.8,277.1 L291.9,272.4 L293.0,275.5 L294.1,281.8 L295.2,285.7 L296.3,287.3 L297.4,285.8 L298.5,288.3 L299.6,286.5 L300.7,287.8 L301.8,285.7 L302.9,288.7" fill="none" stroke="#1a1a1a" stroke-width="1.5" stroke-linejoin="round"/>
<line x1="216" y1="295.8" x2="239" y2="295.8" stroke="#231f20" stroke-width="1.2"/>
<text x="211.5" y="308.6" font-size="11" fill="#231f20" stroke="#231f20" stroke-width="0.3">500 ms</text>
<line x1="310" y1="244" x2="310" y2="264.6" stroke="#231f20" stroke-width="1.2"/>
<text transform="translate(323,272.2) rotate(-90)" font-size="10.5" fill="#231f20" stroke="#231f20" stroke-width="0.3">0.5 F/F<tspan font-size="6.5" dy="3.3" dx="0.5">0</tspan></text>
<text x="446" y="26" font-size="14" fill="#d8364a">[Ca<tspan font-size="8.2" dy="-4.2" dx="0.4">2+</tspan><tspan dy="4.2" dx="0.4">]</tspan><tspan font-size="8.2" dy="4" dx="0.3">i</tspan></text>
<path d="M387.6,111.4 C388.0,111.6 389.4,112.8 390.2,112.7 C391.0,112.6 392.1,114.3 392.7,110.8 C393.3,107.3 393.8,94.9 394.2,91.1 C394.6,87.3 395.1,93.8 395.5,87.3 C395.9,80.8 396.3,57.1 396.8,50.4 C397.3,43.7 397.8,44.8 398.4,45.3 C399.0,45.8 399.6,52.9 400.3,53.6 C401.0,54.3 402.2,48.9 402.9,49.8 C403.6,50.7 404.1,57.8 404.8,59.3 C405.5,60.8 406.6,56.7 407.3,59.3 C408.0,61.9 408.6,70.1 409.2,75.8 C409.8,81.5 410.5,90.8 411.1,94.9 C411.7,99.0 412.2,100.2 413.0,101.3 C413.8,102.4 415.3,101.1 416.2,101.9 C417.1,102.7 418.0,105.3 418.8,106.4 C419.6,107.5 420.5,108.0 421.3,108.9 C422.1,109.8 423.2,112.0 423.9,112.1 C424.6,112.2 425.1,109.2 425.8,109.5 C426.5,109.8 427.5,113.9 428.3,114.0 C429.1,114.1 429.8,110.1 430.8,110.2 C431.8,110.3 433.6,114.3 434.7,114.6 C435.8,114.9 436.9,112.1 437.8,112.1 C438.7,112.1 439.6,114.5 440.4,114.6 C441.2,114.7 442.0,112.5 442.9,112.7 C443.8,112.9 444.9,115.9 445.8,115.9 C446.7,115.9 447.7,113.3 448.6,112.7 C449.5,112.1 450.2,112.1 451.2,112.1 C452.2,112.1 454.0,114.0 455.0,112.7 C456.0,111.4 456.6,104.0 457.3,103.8 C458.0,103.6 458.6,109.9 459.4,111.4 C460.2,112.9 461.1,113.3 462.0,113.3 C462.9,113.3 464.3,111.6 465.1,111.4 C465.9,111.2 466.5,113.2 467.0,112.1 C467.5,111.0 467.8,104.7 468.3,104.4 C468.8,104.1 469.5,109.1 470.2,110.2 C470.9,111.3 471.9,111.9 472.7,111.4 C473.5,110.9 474.3,107.0 475.0,107.0 C475.7,107.0 476.6,114.3 477.2,111.4 C477.8,108.5 478.3,97.3 478.8,88.6 C479.3,79.9 479.9,62.7 480.3,56.8 C480.7,50.9 481.2,55.3 481.6,51.7 C482.0,48.1 482.4,35.7 482.9,34.5 C483.4,33.3 484.3,41.6 484.8,44.1 C485.3,46.6 485.6,49.1 486.1,50.4 C486.6,51.7 487.1,49.2 487.7,52.3 C488.3,55.4 489.2,64.3 489.9,69.5 C490.6,74.7 491.1,80.2 491.8,84.7 C492.5,89.2 493.3,94.8 494.1,97.5 C494.9,100.2 496.1,100.5 496.9,101.3 C497.7,102.1 498.7,101.5 499.4,102.5 C500.1,103.5 500.7,107.7 501.3,107.6 C501.9,107.5 502.6,101.9 503.2,101.9 C503.8,101.9 504.3,105.9 505.1,107.6 C505.9,109.3 507.2,112.1 508.3,112.7 C509.4,113.3 511.0,111.3 512.1,111.4 C513.2,111.5 514.4,114.5 515.3,113.3 C516.2,112.1 517.1,104.6 517.8,103.8 C518.5,103.0 519.0,107.4 519.7,108.3 C520.4,109.2 521.5,108.6 522.3,109.5 C523.1,110.4 524.0,113.7 524.8,114.0 C525.6,114.3 526.5,112.2 527.4,111.4 C528.3,110.6 529.6,108.3 530.5,108.9 C531.4,109.5 532.3,114.7 533.1,115.3 C533.9,115.9 534.6,113.1 535.6,112.7 C536.6,112.3 538.3,112.2 539.4,112.7 C540.5,113.2 542.1,115.4 542.6,115.9" fill="none" stroke="#c62a24" stroke-width="2.4" stroke-linejoin="round" stroke-linecap="round"/>
<path d="M387.6,111.4 C388.0,111.6 389.4,112.8 390.2,112.7 C391.0,112.6 392.1,114.3 392.7,110.8 C393.3,107.3 393.8,94.9 394.2,91.1 C394.6,87.3 395.1,93.8 395.5,87.3 C395.9,80.8 396.3,57.1 396.8,50.4 C397.3,43.7 397.8,44.8 398.4,45.3 C399.0,45.8 399.6,52.9 400.3,53.6 C401.0,54.3 402.2,48.9 402.9,49.8 C403.6,50.7 404.1,57.8 404.8,59.3 C405.5,60.8 406.6,56.7 407.3,59.3 C408.0,61.9 408.6,70.1 409.2,75.8 C409.8,81.5 410.5,90.8 411.1,94.9 C411.7,99.0 412.2,100.2 413.0,101.3 C413.8,102.4 415.3,101.1 416.2,101.9 C417.1,102.7 418.0,105.3 418.8,106.4 C419.6,107.5 420.5,108.0 421.3,108.9 C422.1,109.8 423.2,112.0 423.9,112.1 C424.6,112.2 425.1,109.2 425.8,109.5 C426.5,109.8 427.5,113.9 428.3,114.0 C429.1,114.1 429.8,110.1 430.8,110.2 C431.8,110.3 433.6,114.3 434.7,114.6 C435.8,114.9 436.9,112.1 437.8,112.1 C438.7,112.1 439.6,114.5 440.4,114.6 C441.2,114.7 442.0,112.5 442.9,112.7 C443.8,112.9 444.9,115.9 445.8,115.9 C446.7,115.9 447.7,113.3 448.6,112.7 C449.5,112.1 450.2,112.1 451.2,112.1 C452.2,112.1 454.0,114.0 455.0,112.7 C456.0,111.4 456.6,104.0 457.3,103.8 C458.0,103.6 458.6,109.9 459.4,111.4 C460.2,112.9 461.1,113.3 462.0,113.3 C462.9,113.3 464.3,111.6 465.1,111.4 C465.9,111.2 466.5,113.2 467.0,112.1 C467.5,111.0 467.8,104.7 468.3,104.4 C468.8,104.1 469.5,109.1 470.2,110.2 C470.9,111.3 471.9,111.9 472.7,111.4 C473.5,110.9 474.3,107.0 475.0,107.0 C475.7,107.0 476.6,114.3 477.2,111.4 C477.8,108.5 478.3,97.3 478.8,88.6 C479.3,79.9 479.9,62.7 480.3,56.8 C480.7,50.9 481.2,55.3 481.6,51.7 C482.0,48.1 482.4,35.7 482.9,34.5 C483.4,33.3 484.3,41.6 484.8,44.1 C485.3,46.6 485.6,49.1 486.1,50.4 C486.6,51.7 487.1,49.2 487.7,52.3 C488.3,55.4 489.2,64.3 489.9,69.5 C490.6,74.7 491.1,80.2 491.8,84.7 C492.5,89.2 493.3,94.8 494.1,97.5 C494.9,100.2 496.1,100.5 496.9,101.3 C497.7,102.1 498.7,101.5 499.4,102.5 C500.1,103.5 500.7,107.7 501.3,107.6 C501.9,107.5 502.6,101.9 503.2,101.9 C503.8,101.9 504.3,105.9 505.1,107.6 C505.9,109.3 507.2,112.1 508.3,112.7 C509.4,113.3 511.0,111.3 512.1,111.4 C513.2,111.5 514.4,114.5 515.3,113.3 C516.2,112.1 517.1,104.6 517.8,103.8 C518.5,103.0 519.0,107.4 519.7,108.3 C520.4,109.2 521.5,108.6 522.3,109.5 C523.1,110.4 524.0,113.7 524.8,114.0 C525.6,114.3 526.5,112.2 527.4,111.4 C528.3,110.6 529.6,108.3 530.5,108.9 C531.4,109.5 532.3,114.7 533.1,115.3 C533.9,115.9 534.6,113.1 535.6,112.7 C536.6,112.3 538.3,112.2 539.4,112.7 C540.5,113.2 542.1,115.4 542.6,115.9" fill="none" stroke="#e23c33" stroke-width="1.3" stroke-linejoin="round" stroke-linecap="round"/>
<line x1="388" y1="112.1" x2="543" y2="112.1" stroke="#1a1a1a" stroke-width="1.2" stroke-dasharray="3 2.6"/>
<line x1="383.8" y1="75.8" x2="383.8" y2="111.5" stroke="#231f20" stroke-width="1.3"/>
<text transform="translate(376,117.5) rotate(-90)" font-size="14" fill="#231f20" stroke="#231f20" stroke-width="0.3">0.5 F/F<tspan font-size="8.8" dy="5" dx="1">0</tspan></text>
<defs><filter id="tr" x="0" y="0" width="100%" height="100%" color-interpolation-filters="sRGB"><feTurbulence type="fractalNoise" baseFrequency="0.12 0.05" numOctaves="2" seed="8" result="n"/><feColorMatrix in="n" type="matrix" values="0 0 0 0 0.26  0 0 0 0 0.06  0 0 0 0 0.06  0 0 0 1.6 -0.84" result="a"/><feComposite in="a" in2="SourceGraphic" operator="in"/></filter></defs>
<defs><linearGradient id="rbg" x1="0" y1="0" x2="1" y2="0"><stop offset="0" stop-color="#100505"/><stop offset="0.4" stop-color="#140606"/><stop offset="0.7" stop-color="#1d0909"/><stop offset="1" stop-color="#1b0808"/></linearGradient></defs>
<rect x="388.4" y="123.1" width="154" height="36.8" fill="url(#rbg)"/>
<rect x="388.4" y="123.1" width="154" height="36.8" fill="#000" filter="url(#tr)"/>
<path d="M393.1,124.4 C393.8,124.3 396.1,123.8 397.5,123.7 C398.9,123.6 401.1,123.3 401.9,123.9 C402.7,124.5 402.4,125.9 402.6,127.3 C402.8,128.7 402.6,130.5 403.2,132.4 C403.8,134.3 405.1,136.9 406.2,139.2 C407.3,141.5 409.0,144.5 410.0,146.8 C411.0,149.1 412.2,151.8 412.5,153.6 C412.8,155.4 412.6,156.9 412.1,157.8 C411.6,158.7 410.5,159.5 409.6,159.4 C408.7,159.3 407.4,158.2 406.6,157.0 C405.8,155.8 405.7,153.8 404.9,151.9 C404.1,150.0 402.9,147.3 401.9,145.1 C400.9,142.9 399.5,140.3 398.6,138.3 C397.7,136.3 396.8,134.0 396.0,132.4 C395.2,130.8 394.0,129.5 393.5,128.2 C393.0,126.9 393.2,125.0 393.1,124.4Z" fill="url(#rg)" stroke="#ead6d6" stroke-width="1.15" opacity="1"/>
<path d="M481.3,123.6 C481.7,123.6 483.1,123.3 484.0,123.3 C484.9,123.3 486.2,122.9 486.9,123.5 C487.6,124.1 488.1,125.7 488.1,127.0 C488.1,128.3 486.6,130.0 486.9,131.6 C487.2,133.2 488.8,135.4 489.8,137.2 C490.8,139.0 492.6,141.2 493.2,142.9 C493.8,144.6 494.0,146.3 493.7,147.9 C493.4,149.5 492.3,152.9 491.5,153.0 C490.7,153.1 489.5,150.3 488.6,148.5 C487.7,146.7 486.8,143.9 485.8,141.7 C484.8,139.5 483.3,136.9 482.4,134.9 C481.5,132.9 480.4,131.1 480.2,129.3 C480.0,127.5 481.1,124.5 481.3,123.6Z" fill="url(#rg)" stroke="#ead6d6" stroke-width="1.15" opacity="1"/>
<line x1="538" y1="149" x2="538" y2="157" stroke="#e4e4e4" stroke-width="1.2"/>
<text x="435.4" y="186.6" font-size="14.3" fill="#48a870">cyto-iATP</text>
<path d="M388.9,225.5 C389.3,225.7 390.7,227.1 391.4,226.8 C392.1,226.5 392.7,223.8 393.3,223.6 C393.9,223.4 394.7,226.0 395.3,225.5 C395.9,225.0 396.6,220.9 397.2,220.4 C397.8,219.9 398.6,223.9 399.1,222.3 C399.6,220.7 399.9,213.2 400.3,210.3 C400.7,207.4 401.4,202.7 401.9,203.9 C402.4,205.1 402.9,216.7 403.5,217.9 C404.1,219.1 405.1,211.1 405.7,211.5 C406.3,211.9 406.7,218.1 407.3,220.4 C407.9,222.7 408.3,225.2 409.2,226.1 C410.1,227.0 411.8,226.2 413.0,226.1 C414.2,226.0 415.7,225.1 416.9,225.5 C418.1,225.9 419.5,227.8 420.7,228.7 C421.9,229.6 423.3,231.3 424.5,231.2 C425.7,231.1 427.1,228.3 428.3,228.0 C429.5,227.7 431.0,229.7 432.1,229.3 C433.2,228.9 434.4,225.5 435.3,225.5 C436.2,225.5 436.9,229.5 437.8,229.3 C438.7,229.1 440.1,224.3 441.0,224.2 C441.9,224.1 442.8,228.7 443.6,228.7 C444.4,228.7 445.1,223.9 446.1,224.2 C447.1,224.5 448.7,230.0 449.9,230.6 C451.1,231.2 452.5,228.8 453.7,228.0 C454.9,227.2 456.5,225.8 457.5,225.5 C458.5,225.2 459.2,225.5 460.0,226.0 C460.8,226.5 461.7,228.8 462.5,228.7 C463.3,228.6 464.3,225.5 465.1,225.5 C465.9,225.5 466.8,228.8 467.6,228.7 C468.4,228.6 469.4,225.0 470.2,224.9 C471.0,224.8 471.9,227.9 472.7,228.0 C473.5,228.1 474.6,225.5 475.3,225.5 C476.0,225.5 476.6,228.3 477.2,228.0 C477.8,227.7 478.4,223.5 479.1,223.6 C479.8,223.7 480.9,228.4 481.6,228.7 C482.3,229.0 482.9,227.7 483.5,225.5 C484.1,223.3 484.8,216.3 485.4,214.7 C486.0,213.1 486.6,214.0 487.0,215.3 C487.4,216.6 487.7,223.2 488.2,223.0 C488.7,222.8 489.7,215.1 490.3,214.1 C490.9,213.1 491.3,215.1 491.8,216.6 C492.3,218.1 492.6,222.2 493.3,223.6 C494.0,225.0 495.2,224.8 496.2,225.5 C497.2,226.2 498.3,227.8 499.4,228.0 C500.5,228.2 502.2,226.8 503.2,226.8 C504.2,226.8 505.1,228.6 505.8,228.0 C506.5,227.4 507.1,223.1 507.7,223.0 C508.3,222.9 508.7,226.8 509.6,227.4 C510.5,228.0 512.2,227.2 513.4,226.8 C514.6,226.4 516.1,224.7 517.2,224.9 C518.3,225.1 519.4,227.9 520.4,228.0 C521.4,228.1 522.6,225.6 523.6,225.5 C524.6,225.4 525.7,227.4 526.7,227.4 C527.7,227.4 528.9,225.4 529.9,225.5 C530.9,225.6 532.1,227.9 533.1,228.0 C534.1,228.1 535.3,225.7 536.3,226.1 C537.3,226.5 538.4,230.5 539.4,230.6 C540.4,230.7 542.1,227.4 542.6,226.8" fill="none" stroke="#4ea53e" stroke-width="2.5" stroke-linejoin="round" stroke-linecap="round"/>
<path d="M388.9,225.5 C389.3,225.7 390.7,227.1 391.4,226.8 C392.1,226.5 392.7,223.8 393.3,223.6 C393.9,223.4 394.7,226.0 395.3,225.5 C395.9,225.0 396.6,220.9 397.2,220.4 C397.8,219.9 398.6,223.9 399.1,222.3 C399.6,220.7 399.9,213.2 400.3,210.3 C400.7,207.4 401.4,202.7 401.9,203.9 C402.4,205.1 402.9,216.7 403.5,217.9 C404.1,219.1 405.1,211.1 405.7,211.5 C406.3,211.9 406.7,218.1 407.3,220.4 C407.9,222.7 408.3,225.2 409.2,226.1 C410.1,227.0 411.8,226.2 413.0,226.1 C414.2,226.0 415.7,225.1 416.9,225.5 C418.1,225.9 419.5,227.8 420.7,228.7 C421.9,229.6 423.3,231.3 424.5,231.2 C425.7,231.1 427.1,228.3 428.3,228.0 C429.5,227.7 431.0,229.7 432.1,229.3 C433.2,228.9 434.4,225.5 435.3,225.5 C436.2,225.5 436.9,229.5 437.8,229.3 C438.7,229.1 440.1,224.3 441.0,224.2 C441.9,224.1 442.8,228.7 443.6,228.7 C444.4,228.7 445.1,223.9 446.1,224.2 C447.1,224.5 448.7,230.0 449.9,230.6 C451.1,231.2 452.5,228.8 453.7,228.0 C454.9,227.2 456.5,225.8 457.5,225.5 C458.5,225.2 459.2,225.5 460.0,226.0 C460.8,226.5 461.7,228.8 462.5,228.7 C463.3,228.6 464.3,225.5 465.1,225.5 C465.9,225.5 466.8,228.8 467.6,228.7 C468.4,228.6 469.4,225.0 470.2,224.9 C471.0,224.8 471.9,227.9 472.7,228.0 C473.5,228.1 474.6,225.5 475.3,225.5 C476.0,225.5 476.6,228.3 477.2,228.0 C477.8,227.7 478.4,223.5 479.1,223.6 C479.8,223.7 480.9,228.4 481.6,228.7 C482.3,229.0 482.9,227.7 483.5,225.5 C484.1,223.3 484.8,216.3 485.4,214.7 C486.0,213.1 486.6,214.0 487.0,215.3 C487.4,216.6 487.7,223.2 488.2,223.0 C488.7,222.8 489.7,215.1 490.3,214.1 C490.9,213.1 491.3,215.1 491.8,216.6 C492.3,218.1 492.6,222.2 493.3,223.6 C494.0,225.0 495.2,224.8 496.2,225.5 C497.2,226.2 498.3,227.8 499.4,228.0 C500.5,228.2 502.2,226.8 503.2,226.8 C504.2,226.8 505.1,228.6 505.8,228.0 C506.5,227.4 507.1,223.1 507.7,223.0 C508.3,222.9 508.7,226.8 509.6,227.4 C510.5,228.0 512.2,227.2 513.4,226.8 C514.6,226.4 516.1,224.7 517.2,224.9 C518.3,225.1 519.4,227.9 520.4,228.0 C521.4,228.1 522.6,225.6 523.6,225.5 C524.6,225.4 525.7,227.4 526.7,227.4 C527.7,227.4 528.9,225.4 529.9,225.5 C530.9,225.6 532.1,227.9 533.1,228.0 C534.1,228.1 535.3,225.7 536.3,226.1 C537.3,226.5 538.4,230.5 539.4,230.6 C540.4,230.7 542.1,227.4 542.6,226.8" fill="none" stroke="#70c457" stroke-width="1.4" stroke-linejoin="round" stroke-linecap="round"/>
<line x1="388" y1="230.4" x2="543" y2="230.4" stroke="#1a1a1a" stroke-width="1.2" stroke-dasharray="3 2.6"/>
<line x1="383.8" y1="195" x2="383.8" y2="228" stroke="#231f20" stroke-width="1.3"/>
<text transform="translate(376,236) rotate(-90)" font-size="14" fill="#231f20" stroke="#231f20" stroke-width="0.3">0.5 F/F<tspan font-size="8.8" dy="5" dx="1">0</tspan></text>
<defs><filter id="tg" x="0" y="0" width="100%" height="100%" color-interpolation-filters="sRGB"><feTurbulence type="fractalNoise" baseFrequency="0.36" numOctaves="2" seed="11" result="n"/><feColorMatrix in="n" type="matrix" values="0 0 0 0 0.17  0 0 0 0 0.30  0 0 0 0 0.16  0 0 0 3.4 -1.72" result="a"/><feComposite in="a" in2="SourceGraphic" operator="in"/></filter></defs>
<rect x="388.4" y="246.2" width="154.4" height="38" fill="#060906"/>
<rect x="388.4" y="246.2" width="154.4" height="38" fill="#000" filter="url(#tg)"/>
<defs><linearGradient id="dk" x1="0" y1="0" x2="1" y2="0"><stop offset="0" stop-color="#050705" stop-opacity="0.15"/><stop offset="0.45" stop-color="#050705" stop-opacity="0"/><stop offset="0.7" stop-color="#050705" stop-opacity="0.35"/><stop offset="1" stop-color="#050705" stop-opacity="0.75"/></linearGradient></defs>
<rect x="388.4" y="246.2" width="154.4" height="38" fill="url(#dk)"/>
<rect x="397.5" y="246.1" width="8" height="37.4" fill="#3f9a34" opacity="0.22" filter="url(#bl)"/>
<rect x="484" y="246.1" width="7" height="37.4" fill="#3f9a34" opacity="0.15" filter="url(#bl)"/>
<path d="M398.1,246.3 C399.1,246.3 403.5,245.7 404.5,246.3 C405.5,246.9 404.5,248.9 404.3,250.0 C404.1,251.1 403.4,252.1 403.0,253.0 C402.6,253.9 402.0,255.4 401.5,255.6 C401.0,255.8 400.0,254.9 399.6,254.0 C399.2,253.1 398.9,251.2 398.7,250.0 C398.5,248.8 398.2,246.9 398.1,246.3Z" fill="#63c84e" stroke="none" stroke-width="0" opacity="0.85"/>
<path d="M397.7,246.4 C399.4,246.4 406.9,245.9 408.5,246.4 C410.1,246.9 408.6,248.8 408.0,249.5 C407.4,250.2 404.9,250.4 405.0,251.0 C405.1,251.6 408.1,252.6 408.8,253.5 C409.5,254.4 409.6,255.9 409.2,256.5 C408.8,257.1 406.9,257.1 406.0,257.5 C405.1,257.9 404.3,258.9 403.5,259.0 C402.7,259.1 401.5,258.7 401.0,258.0 C400.5,257.3 400.9,255.5 400.5,254.5 C400.1,253.5 398.9,252.8 398.5,251.5 C398.1,250.2 397.8,247.2 397.7,246.4Z" fill="none" stroke="#dfe6da" stroke-width="0.7"/>
<path d="M404.0,263.6 C404.4,263.7 406.3,263.8 406.5,264.5 C406.7,265.2 405.1,267.0 405.5,268.0 C405.9,269.0 408.2,269.5 408.8,270.5 C409.4,271.5 409.6,273.5 409.2,274.5 C408.8,275.5 407.4,276.5 406.5,276.7 C405.6,276.9 403.9,276.3 403.5,275.5 C403.1,274.7 404.3,272.5 403.8,271.5 C403.3,270.5 400.9,270.3 400.5,269.5 C400.1,268.7 400.4,267.4 401.0,266.5 C401.6,265.6 403.5,264.1 404.0,263.6Z" fill="none" stroke="#dfe6da" stroke-width="0.7"/>
<path d="M483.0,246.3 C484.0,246.3 488.5,245.8 489.5,246.3 C490.5,246.8 489.7,248.5 489.5,249.5 C489.3,250.5 488.7,251.7 488.2,252.5 C487.7,253.3 486.8,254.7 486.2,254.6 C485.6,254.5 485.0,252.9 484.6,252.0 C484.2,251.1 483.7,249.9 483.4,249.0 C483.1,248.1 483.1,246.7 483.0,246.3Z" fill="#63c84e" stroke="none" stroke-width="0" opacity="0.85"/>
<path d="M482.5,246.4 C484.0,246.4 490.2,245.8 491.6,246.4 C493.0,247.0 491.5,248.9 491.2,250.0 C490.9,251.1 490.0,252.0 489.5,253.0 C489.0,254.0 488.7,255.6 488.0,256.0 C487.3,256.4 485.8,256.3 485.3,255.6 C484.8,254.9 485.0,252.5 484.6,251.5 C484.2,250.5 482.9,250.2 482.6,249.4 C482.3,248.6 482.5,246.9 482.5,246.4Z" fill="none" stroke="#dfe6da" stroke-width="0.7"/>
<path d="M487.5,262.5 C488.1,262.4 490.1,261.6 491.0,262.0 C491.9,262.4 492.8,264.0 493.0,265.0 C493.2,266.0 491.8,267.0 492.0,268.0 C492.2,269.0 493.9,270.2 494.0,271.5 C494.1,272.8 493.4,275.2 492.5,276.0 C491.6,276.8 489.4,277.0 488.5,276.4 C487.6,275.8 487.0,273.7 487.0,272.5 C487.0,271.3 488.5,270.0 488.5,269.0 C488.5,268.0 487.0,267.0 486.8,266.0 C486.6,265.0 487.4,263.1 487.5,262.5Z" fill="none" stroke="#dfe6da" stroke-width="0.7"/>
<line x1="538.3" y1="273.2" x2="538.3" y2="281" stroke="#e4e4e4" stroke-width="1.2"/>
<line x1="388.4" y1="289.6" x2="429.2" y2="289.6" stroke="#231f20" stroke-width="1.3"/>
<text x="385.6" y="303.4" font-size="14" fill="#231f20" stroke="#231f20" stroke-width="0.3">500 ms</text>
<line x1="546.6" y1="246.3" x2="546.6" y2="258.2" stroke="#e07a3c" stroke-width="2.2"/>
<line x1="546.6" y1="259.6" x2="546.6" y2="271" stroke="#7a4fb0" stroke-width="2.2"/>
<line x1="546.6" y1="272.5" x2="546.6" y2="283.8" stroke="#1a1a1a" stroke-width="2.2"/>
<line x1="549.6" y1="252.9" x2="565.2" y2="240.9" stroke="#1a1a1a" stroke-width="0.9" marker-end="url(#ah)"/>
<line x1="549.6" y1="264.8" x2="564.5" y2="264.8" stroke="#1a1a1a" stroke-width="0.9" marker-end="url(#ah)"/>
<line x1="549.4" y1="278.2" x2="563.4" y2="288.6" stroke="#1a1a1a" stroke-width="0.9" marker-end="url(#ah)"/>
<line x1="570.5" y1="239.4" x2="685" y2="239.4" stroke="#1a1a1a" stroke-width="1.0" stroke-dasharray="2.6 2.2"/>
<path d="M570.5,237.6 L571.6,237.8 L572.7,238.2 L573.8,238.7 L574.9,237.8 L576.0,237.8 L577.1,237.6 L578.2,229.0 L579.3,211.5 L580.4,230.2 L581.5,233.3 L582.6,231.9 L583.7,234.9 L584.8,237.0 L585.9,238.0 L587.0,239.2 L588.1,237.7 L589.2,237.6 L590.3,239.1 L591.4,236.9 L592.5,236.3 L593.6,238.1 L594.7,238.2 L595.8,239.1 L596.9,237.9 L598.0,237.9 L599.1,238.5 L600.2,238.5 L601.3,239.1 L602.4,238.9 L603.5,236.9 L604.6,236.8 L605.7,238.9 L606.8,239.2 L607.9,237.6 L609.0,238.8 L610.1,239.0 L611.2,238.6 L612.3,237.9 L613.4,238.9 L614.5,238.8 L615.6,237.9 L616.7,238.6 L617.8,238.0 L618.9,237.7 L620.0,238.1 L621.1,238.1 L622.2,238.2 L623.3,238.6 L624.4,238.9 L625.5,239.1 L626.6,239.2 L627.7,239.2 L628.8,238.9 L629.9,238.1 L631.0,237.9 L632.1,238.6 L633.2,238.5 L634.3,238.5 L635.4,236.1 L636.5,236.0 L637.6,238.9 L638.7,238.6 L639.8,238.7 L640.9,236.4 L642.0,225.0 L643.1,220.8 L644.2,230.5 L645.3,233.5 L646.4,234.6 L647.5,237.2 L648.6,238.7 L649.7,238.3 L650.8,238.9 L651.9,238.5 L653.0,237.8 L654.1,237.8 L655.2,239.2 L656.3,237.8 L657.4,237.9 L658.5,238.1 L659.6,236.9 L660.7,237.9 L661.8,238.3 L662.9,238.4 L664.0,238.9 L665.1,238.0 L666.2,238.2 L667.3,238.6 L668.4,238.6 L669.5,237.7 L670.6,237.8 L671.7,237.8 L672.8,238.8 L673.9,238.7 L675.0,239.2 L676.1,238.8 L677.2,238.0 L678.3,238.8 L679.4,239.2 L680.5,238.2 L681.6,237.6 L682.7,238.2 L683.8,238.1 L684.9,237.9" fill="none" stroke="#e07a3c" stroke-width="1.4" stroke-linejoin="round"/>
<line x1="570.5" y1="273" x2="685" y2="273" stroke="#1a1a1a" stroke-width="1.0" stroke-dasharray="2.6 2.2"/>
<path d="M570.5,270.2 L571.4,270.4 L572.3,270.6 L573.2,271.8 L574.1,271.0 L575.0,271.4 L575.9,270.2 L576.8,271.0 L577.7,271.7 L578.6,271.0 L579.5,271.8 L580.4,269.6 L581.3,253.4 L582.2,242.6 L583.1,261.1 L584.0,269.2 L584.9,270.0 L585.8,271.5 L586.7,271.7 L587.6,271.7 L588.5,271.9 L589.4,270.4 L590.3,270.2 L591.2,270.2 L592.1,272.0 L593.0,270.2 L593.9,270.3 L594.8,270.0 L595.7,270.1 L596.6,270.1 L597.5,270.7 L598.4,270.3 L599.3,270.6 L600.2,271.9 L601.1,270.3 L602.0,271.6 L602.9,271.5 L603.8,271.1 L604.7,271.2 L605.6,271.5 L606.5,271.2 L607.4,270.5 L608.3,270.7 L609.2,270.5 L610.1,270.8 L611.0,272.0 L611.9,270.9 L612.8,270.1 L613.7,271.0 L614.6,271.6 L615.5,270.9 L616.4,271.4 L617.3,270.2 L618.2,270.1 L619.1,271.3 L620.0,270.1 L620.9,270.6 L621.8,270.8 L622.7,270.4 L623.6,270.1 L624.5,270.0 L625.4,271.9 L626.3,271.4 L627.2,271.9 L628.1,271.0 L629.0,271.9 L629.9,271.7 L630.8,271.2 L631.7,271.1 L632.6,271.0 L633.5,270.5 L634.4,270.8 L635.3,271.4 L636.2,270.4 L637.1,271.7 L638.0,271.0 L638.9,271.2 L639.8,271.6 L640.7,271.3 L641.6,270.3 L642.5,270.5 L643.4,270.0 L644.3,270.1 L645.2,271.9 L646.1,269.6 L647.0,259.3 L647.9,262.2 L648.8,269.7 L649.7,271.9 L650.6,271.8 L651.5,270.9 L652.4,270.2 L653.3,270.6 L654.2,270.3 L655.1,270.7 L656.0,270.2 L656.9,271.4 L657.8,272.0 L658.7,270.4 L659.6,271.6 L660.5,271.2 L661.4,271.0 L662.3,271.8 L663.2,270.8 L664.1,271.6 L665.0,270.1 L665.9,271.9 L666.8,270.4 L667.7,270.0 L668.6,271.8 L669.5,271.4 L670.4,271.3 L671.3,271.5 L672.2,270.8 L673.1,270.2 L674.0,270.6 L674.9,271.9 L675.8,272.0 L676.7,270.5 L677.6,270.9 L678.5,270.9 L679.4,271.8 L680.3,270.0 L681.2,271.7 L682.1,270.5 L683.0,271.1 L683.9,270.3 L684.8,270.2" fill="none" stroke="#7a4fb0" stroke-width="1.4" stroke-linejoin="round"/>
<path d="M570.5,293.1 L571.8,293.4 L573.1,294.4 L574.4,291.5 L575.7,293.5 L577.0,294.8 L578.3,294.9 L579.6,291.0 L580.9,293.5 L582.2,293.3 L583.5,292.7 L584.8,295.2 L586.1,292.9 L587.4,292.4 L588.7,295.1 L590.0,293.4 L591.3,291.6 L592.6,291.7 L593.9,292.7 L595.2,290.3 L596.5,293.3 L597.8,293.4 L599.1,292.5 L600.4,293.7 L601.7,293.9 L603.0,292.9 L604.3,293.2 L605.6,291.6 L606.9,291.4 L608.2,294.1 L609.5,292.1 L610.8,291.9 L612.1,293.8 L613.4,293.4 L614.7,291.6 L616.0,292.2 L617.3,292.0 L618.6,292.0 L619.9,291.3 L621.2,292.8 L622.5,292.1 L623.8,292.4 L625.1,292.1 L626.4,292.0 L627.7,291.9 L629.0,293.4 L630.3,293.1 L631.6,292.8 L632.9,292.0 L634.2,292.1 L635.5,292.0 L636.8,292.4 L638.1,291.9 L639.4,292.3 L640.7,292.2 L642.0,292.1 L643.3,293.0 L644.6,292.6 L645.9,292.7 L647.2,292.4 L648.5,292.8 L649.8,293.2 L651.1,292.4 L652.4,291.9 L653.7,292.7 L655.0,292.5 L656.3,293.2 L657.6,292.0 L658.9,293.4 L660.2,291.8 L661.5,292.8 L662.8,292.6 L664.1,292.4 L665.4,293.4 L666.7,293.1 L668.0,292.1 L669.3,292.7 L670.6,292.9 L671.9,291.9 L673.2,292.0 L674.5,292.9 L675.8,293.1 L677.1,292.6 L678.4,292.6 L679.7,292.7 L681.0,292.3 L682.3,293.4 L683.6,293.5 L684.9,292.7 L686.2,291.8" fill="none" stroke="#1a1a1a" stroke-width="1.4" stroke-linejoin="round"/>
<line x1="571.6" y1="302" x2="601.2" y2="302" stroke="#231f20" stroke-width="1.2"/>
<text x="569.5" y="315.2" font-size="11" fill="#231f20" stroke="#231f20" stroke-width="0.3">500 ms</text>
<line x1="690.7" y1="253" x2="690.7" y2="272.6" stroke="#231f20" stroke-width="1.2"/>
<text transform="translate(702.8,280.6) rotate(-90)" font-size="10.5" fill="#231f20" stroke="#231f20" stroke-width="0.3">0.5 F/F<tspan font-size="6.5" dy="3.3" dx="0.5">0</tspan></text>
<path d="M92.3,380.5 L92.3,527.7 L311,527.7" fill="none" stroke="#231f20" stroke-width="1.5" stroke-linecap="square"/>
<line x1="92.3" y1="527.7" x2="92.3" y2="532.7" stroke="#231f20" stroke-width="1.5"/>
<text x="92.3" y="547.1" font-size="14" text-anchor="middle" fill="#231f20" stroke="#231f20" stroke-width="0.3">0</text>
<line x1="136.0" y1="527.7" x2="136.0" y2="532.7" stroke="#231f20" stroke-width="1.5"/>
<text x="136.0" y="547.1" font-size="14" text-anchor="middle" fill="#231f20" stroke="#231f20" stroke-width="0.3">2000</text>
<line x1="179.7" y1="527.7" x2="179.7" y2="532.7" stroke="#231f20" stroke-width="1.5"/>
<text x="179.7" y="547.1" font-size="14" text-anchor="middle" fill="#231f20" stroke="#231f20" stroke-width="0.3">4000</text>
<line x1="223.40000000000003" y1="527.7" x2="223.40000000000003" y2="532.7" stroke="#231f20" stroke-width="1.5"/>
<text x="223.4" y="547.1" font-size="14" text-anchor="middle" fill="#231f20" stroke="#231f20" stroke-width="0.3">6000</text>
<line x1="267.1" y1="527.7" x2="267.1" y2="532.7" stroke="#231f20" stroke-width="1.5"/>
<text x="267.1" y="547.1" font-size="14" text-anchor="middle" fill="#231f20" stroke="#231f20" stroke-width="0.3">8000</text>
<line x1="310.8" y1="527.7" x2="310.8" y2="532.7" stroke="#231f20" stroke-width="1.5"/>
<text x="310.8" y="547.1" font-size="14" text-anchor="middle" fill="#231f20" stroke="#231f20" stroke-width="0.3">10000</text>
<line x1="86.3" y1="527.7" x2="92.3" y2="527.7" stroke="#231f20" stroke-width="1.5"/>
<text x="78.3" y="532.7" font-size="14" text-anchor="end" fill="#231f20" stroke="#231f20" stroke-width="0.3">0</text>
<line x1="86.3" y1="490.90000000000003" x2="92.3" y2="490.90000000000003" stroke="#231f20" stroke-width="1.5"/>
<text x="83.1" y="496.2" font-size="14" text-anchor="end" fill="#231f20" stroke="#231f20" stroke-width="0.3">2000</text>
<line x1="86.3" y1="454.1" x2="92.3" y2="454.1" stroke="#231f20" stroke-width="1.5"/>
<text x="83.1" y="459.6" font-size="14" text-anchor="end" fill="#231f20" stroke="#231f20" stroke-width="0.3">4000</text>
<line x1="86.3" y1="417.30000000000007" x2="92.3" y2="417.30000000000007" stroke="#231f20" stroke-width="1.5"/>
<text x="83.1" y="423.1" font-size="14" text-anchor="end" fill="#231f20" stroke="#231f20" stroke-width="0.3">6000</text>
<line x1="86.3" y1="380.50000000000006" x2="92.3" y2="380.50000000000006" stroke="#231f20" stroke-width="1.5"/>
<text x="83.1" y="386.5" font-size="14" text-anchor="end" fill="#231f20" stroke="#231f20" stroke-width="0.3">8000</text>
<text x="172.6" y="369.8" font-size="14" text-anchor="middle" fill="#231f20" stroke="#231f20" stroke-width="0.3">Events</text>
<text x="108.2" y="564.6" font-size="14" fill="#231f20" stroke="#231f20" stroke-width="0.3">Ca<tspan font-size="8.8" dy="-3.6" dx="0.5">2+</tspan><tspan dy="3.6" dx="0"> </tspan>Signal Mass (F/F<tspan font-size="8.8" dy="4.8" dx="1">0</tspan><tspan dy="-4.8" dx="1.1" font-size="12">•</tspan><tspan dx="1.3">µm</tspan><tspan font-size="8.8" dy="-3.6" dx="0.6">2</tspan><tspan dy="3.6" dx="2" font-size="12">•</tspan><tspan dx="1.3">s)</tspan></text>
<text transform="translate(25,449.7) rotate(-90)" font-size="14" text-anchor="middle" fill="#231f20" stroke="#231f20" stroke-width="0.3">cyto-iATP</text>
<text transform="translate(41,532.4) rotate(-90)" font-size="14" fill="#231f20" stroke="#231f20" stroke-width="0.3">Signal Mass (F/F<tspan font-size="8.8" dy="4.8" dx="1">0</tspan><tspan dy="-4.8" dx="1.1" font-size="12">•</tspan><tspan dx="1.3">µm</tspan><tspan font-size="8.8" dy="-3.6" dx="0.6">2</tspan><tspan dy="3.6" dx="2" font-size="12">•</tspan><tspan dx="1.3">s)</tspan></text>
<rect x="163.9" y="459.1" width="5.6" height="5.6" fill="#4756ae"/>
<rect x="150.5" y="459.1" width="5.6" height="5.6" fill="#4756ae"/>
<rect x="152.3" y="462.6" width="5.6" height="5.6" fill="#4756ae"/>
<rect x="147.3" y="467.6" width="5.6" height="5.6" fill="#4756ae"/>
<rect x="146.9" y="472.2" width="5.6" height="5.6" fill="#4756ae"/>
<rect x="134.2" y="473.6" width="5.6" height="5.6" fill="#4756ae"/>
<rect x="152.6" y="477.9" width="5.6" height="5.6" fill="#4756ae"/>
<rect x="129.0" y="477.5" width="5.6" height="5.6" fill="#4756ae"/>
<rect x="127.6" y="482.4" width="5.6" height="5.6" fill="#4756ae"/>
<rect x="110.9" y="479.3" width="5.6" height="5.6" fill="#4756ae"/>
<rect x="114.9" y="480.3" width="5.6" height="5.6" fill="#4756ae"/>
<rect x="118.7" y="483.1" width="5.6" height="5.6" fill="#4756ae"/>
<rect x="133.9" y="483.8" width="5.6" height="5.6" fill="#4756ae"/>
<rect x="141.7" y="482.4" width="5.6" height="5.6" fill="#4756ae"/>
<rect x="143.8" y="486.6" width="5.6" height="5.6" fill="#4756ae"/>
<rect x="123.3" y="488.8" width="5.6" height="5.6" fill="#4756ae"/>
<rect x="135.3" y="490.2" width="5.6" height="5.6" fill="#4756ae"/>
<rect x="143.8" y="490.2" width="5.6" height="5.6" fill="#4756ae"/>
<rect x="100.5" y="493.0" width="5.6" height="5.6" fill="#4756ae"/>
<rect x="104.3" y="495.8" width="5.6" height="5.6" fill="#4756ae"/>
<rect x="110.6" y="497.9" width="5.6" height="5.6" fill="#4756ae"/>
<rect x="114.9" y="497.7" width="5.6" height="5.6" fill="#4756ae"/>
<rect x="127.6" y="499.3" width="5.6" height="5.6" fill="#4756ae"/>
<rect x="141.0" y="497.9" width="5.6" height="5.6" fill="#4756ae"/>
<rect x="159.6" y="495.8" width="5.6" height="5.6" fill="#4756ae"/>
<rect x="155.1" y="502.9" width="5.6" height="5.6" fill="#4756ae"/>
<rect x="121.6" y="502.9" width="5.6" height="5.6" fill="#4756ae"/>
<rect x="121.9" y="506.4" width="5.6" height="5.6" fill="#4756ae"/>
<rect x="99.3" y="503.6" width="5.6" height="5.6" fill="#4756ae"/>
<rect x="102.9" y="505.0" width="5.6" height="5.6" fill="#4756ae"/>
<rect x="95.1" y="507.8" width="5.6" height="5.6" fill="#4756ae"/>
<rect x="93.0" y="510.6" width="5.6" height="5.6" fill="#4756ae"/>
<rect x="97.2" y="512.1" width="5.6" height="5.6" fill="#4756ae"/>
<rect x="106.4" y="510.6" width="5.6" height="5.6" fill="#4756ae"/>
<rect x="90.8" y="517.7" width="5.6" height="5.6" fill="#4756ae"/>
<rect x="93.7" y="514.9" width="5.6" height="5.6" fill="#4756ae"/>
<rect x="112.0" y="515.6" width="5.6" height="5.6" fill="#4756ae"/>
<rect x="124.7" y="524.8" width="5.6" height="5.6" fill="#4756ae"/>
<rect x="129.0" y="505.0" width="5.6" height="5.6" fill="#4756ae"/>
<rect x="88.7" y="519.1" width="5.6" height="5.6" fill="#4756ae"/>
<rect x="131.8" y="479.6" width="5.6" height="5.6" fill="#4756ae"/>
<rect x="138.6" y="485.9" width="5.6" height="5.6" fill="#4756ae"/>
<rect x="129.3" y="486.9" width="5.6" height="5.6" fill="#4756ae"/>
<rect x="140.0" y="479.6" width="5.6" height="5.6" fill="#4756ae"/>
<rect x="120.8" y="485.2" width="5.6" height="5.6" fill="#4756ae"/>
<rect x="126.2" y="493.7" width="5.6" height="5.6" fill="#4756ae"/>
<rect x="131.8" y="494.4" width="5.6" height="5.6" fill="#4756ae"/>
<rect x="95.8" y="503.6" width="5.6" height="5.6" fill="#4756ae"/>
<rect x="92.0" y="514.2" width="5.6" height="5.6" fill="#4756ae"/>
<rect x="98.6" y="508.5" width="5.6" height="5.6" fill="#4756ae"/>
<rect x="169.7" y="400.8" width="5.6" height="5.6" fill="#4756ae"/>
<rect x="203.6" y="410.6" width="5.6" height="5.6" fill="#4756ae"/>
<rect x="175.2" y="428.7" width="5.6" height="5.6" fill="#4756ae"/>
<rect x="176.2" y="429.5" width="5.6" height="5.6" fill="#4756ae"/>
<circle cx="123.3" cy="495.8" r="2.9" fill="#e8912d"/>
<circle cx="142.4" cy="497.2" r="2.9" fill="#e8912d"/>
<circle cx="165.0" cy="499.6" r="2.9" fill="#e8912d"/>
<circle cx="177.7" cy="501.7" r="2.9" fill="#e8912d"/>
<circle cx="180.5" cy="510.6" r="2.9" fill="#e8912d"/>
<circle cx="186.2" cy="514.2" r="2.9" fill="#e8912d"/>
<circle cx="133.2" cy="504.3" r="2.9" fill="#e8912d"/>
<circle cx="130.4" cy="506.4" r="2.9" fill="#e8912d"/>
<circle cx="133.9" cy="512.0" r="2.9" fill="#e8912d"/>
<circle cx="121.2" cy="515.6" r="2.9" fill="#e8912d"/>
<circle cx="161.2" cy="512.0" r="2.9" fill="#e8912d"/>
<circle cx="169.9" cy="516.3" r="2.9" fill="#e8912d"/>
<circle cx="170.6" cy="519.1" r="2.9" fill="#e8912d"/>
<circle cx="104.9" cy="513.4" r="2.9" fill="#e8912d"/>
<circle cx="141.0" cy="514.2" r="2.9" fill="#e8912d"/>
<circle cx="144.5" cy="514.2" r="2.9" fill="#e8912d"/>
<circle cx="148.0" cy="514.9" r="2.9" fill="#e8912d"/>
<circle cx="132.5" cy="519.1" r="2.9" fill="#e8912d"/>
<circle cx="140.3" cy="519.8" r="2.9" fill="#e8912d"/>
<circle cx="147.3" cy="521.2" r="2.9" fill="#e8912d"/>
<circle cx="153.0" cy="521.2" r="2.9" fill="#e8912d"/>
<circle cx="157.2" cy="521.9" r="2.9" fill="#e8912d"/>
<circle cx="160.0" cy="524.0" r="2.9" fill="#e8912d"/>
<circle cx="118.4" cy="524.7" r="2.9" fill="#e8912d"/>
<circle cx="124.7" cy="524.7" r="2.9" fill="#e8912d"/>
<circle cx="136.0" cy="525.5" r="2.9" fill="#e8912d"/>
<circle cx="148.0" cy="524.7" r="2.9" fill="#e8912d"/>
<circle cx="106.4" cy="519.1" r="2.9" fill="#e8912d"/>
<circle cx="110.6" cy="521.2" r="2.9" fill="#e8912d"/>
<circle cx="102.1" cy="523.3" r="2.9" fill="#e8912d"/>
<circle cx="97.9" cy="524.7" r="2.9" fill="#e8912d"/>
<circle cx="94.4" cy="526.2" r="2.9" fill="#e8912d"/>
<circle cx="92.2" cy="526.9" r="2.9" fill="#e8912d"/>
<circle cx="98.6" cy="527.6" r="2.9" fill="#e8912d"/>
<circle cx="103.5" cy="526.2" r="2.9" fill="#e8912d"/>
<circle cx="109.2" cy="524.7" r="2.9" fill="#e8912d"/>
<circle cx="114.1" cy="522.6" r="2.9" fill="#e8912d"/>
<circle cx="143.8" cy="517.0" r="2.9" fill="#e8912d"/>
<circle cx="150.1" cy="518.4" r="2.9" fill="#e8912d"/>
<circle cx="129.0" cy="522.6" r="2.9" fill="#e8912d"/>
<circle cx="154.4" cy="524.7" r="2.9" fill="#e8912d"/>
<circle cx="95.8" cy="524.7" r="2.9" fill="#e8912d"/>
<circle cx="100.7" cy="521.2" r="2.9" fill="#e8912d"/>
<circle cx="116.2" cy="520.5" r="2.9" fill="#e8912d"/>
<circle cx="276.4" cy="509.4" r="2.9" fill="#e8912d"/>
<circle cx="252.1" cy="508.5" r="2.9" fill="#e8912d"/>
<circle cx="244.8" cy="511.9" r="2.9" fill="#e8912d"/>
<circle cx="223.1" cy="513.1" r="2.9" fill="#e8912d"/>
<circle cx="202.7" cy="514.5" r="2.9" fill="#e8912d"/>
<circle cx="186.0" cy="514.8" r="2.9" fill="#e8912d"/>
<circle cx="181.0" cy="511.4" r="2.9" fill="#e8912d"/>
<circle cx="188.5" cy="518.0" r="2.9" fill="#e8912d"/>
<line x1="92.5" y1="524.7" x2="205.9" y2="429.5" stroke="#1a1a1a" stroke-width="1.5"/>
<line x1="92.5" y1="524.7" x2="277" y2="503.7" stroke="#1a1a1a" stroke-width="1.5"/>
<text x="217.5" y="407.4" font-size="14" fill="#5561ad">High-gain</text>
<text x="219.3" y="495.2" font-size="14" fill="#e29a4e">Low-gain</text>
<path d="M459,380.8 L459,527.9 L680.3,527.9" fill="none" stroke="#231f20" stroke-width="1.5" stroke-linecap="square"/>
<line x1="459.2" y1="527.9" x2="459.2" y2="532.9" stroke="#231f20" stroke-width="1.5"/>
<text x="456.2" y="547.5" font-size="14" text-anchor="middle" fill="#231f20" stroke="#231f20" stroke-width="0.3">0</text>
<line x1="514.35" y1="527.9" x2="514.35" y2="532.9" stroke="#231f20" stroke-width="1.5"/>
<text x="513.0" y="547.5" font-size="14" text-anchor="middle" fill="#231f20" stroke="#231f20" stroke-width="0.3">2000</text>
<line x1="569.5" y1="527.9" x2="569.5" y2="532.9" stroke="#231f20" stroke-width="1.5"/>
<text x="568.1" y="547.5" font-size="14" text-anchor="middle" fill="#231f20" stroke="#231f20" stroke-width="0.3">4000</text>
<line x1="624.65" y1="527.9" x2="624.65" y2="532.9" stroke="#231f20" stroke-width="1.5"/>
<text x="623.2" y="547.5" font-size="14" text-anchor="middle" fill="#231f20" stroke="#231f20" stroke-width="0.3">6000</text>
<line x1="679.8" y1="527.9" x2="679.8" y2="532.9" stroke="#231f20" stroke-width="1.5"/>
<text x="678.4" y="547.5" font-size="14" text-anchor="middle" fill="#231f20" stroke="#231f20" stroke-width="0.3">8000</text>
<line x1="453" y1="527.9" x2="459" y2="527.9" stroke="#231f20" stroke-width="1.5"/>
<text x="444.6" y="530.8" font-size="14" text-anchor="end" fill="#231f20" stroke="#231f20" stroke-width="0.3">0</text>
<line x1="453" y1="498.47999999999996" x2="459" y2="498.47999999999996" stroke="#231f20" stroke-width="1.5"/>
<text x="449.8" y="501.8" font-size="14" text-anchor="end" fill="#231f20" stroke="#231f20" stroke-width="0.3">2000</text>
<line x1="453" y1="469.05999999999995" x2="459" y2="469.05999999999995" stroke="#231f20" stroke-width="1.5"/>
<text x="449.8" y="472.8" font-size="14" text-anchor="end" fill="#231f20" stroke="#231f20" stroke-width="0.3">4000</text>
<line x1="453" y1="439.64" x2="459" y2="439.64" stroke="#231f20" stroke-width="1.5"/>
<text x="449.8" y="443.8" font-size="14" text-anchor="end" fill="#231f20" stroke="#231f20" stroke-width="0.3">6000</text>
<line x1="453" y1="410.21999999999997" x2="459" y2="410.21999999999997" stroke="#231f20" stroke-width="1.5"/>
<text x="449.8" y="414.8" font-size="14" text-anchor="end" fill="#231f20" stroke="#231f20" stroke-width="0.3">8000</text>
<line x1="453" y1="380.79999999999995" x2="459" y2="380.79999999999995" stroke="#231f20" stroke-width="1.5"/>
<text x="449.8" y="385.8" font-size="14" text-anchor="end" fill="#231f20" stroke="#231f20" stroke-width="0.3">10000</text>
<text x="535.5" y="369.6" font-size="14" text-anchor="middle" fill="#231f20" stroke="#231f20" stroke-width="0.3">Cells</text>
<text x="478.3" y="564.6" font-size="14" fill="#231f20" stroke="#231f20" stroke-width="0.3">Ca<tspan font-size="8.8" dy="-3.6" dx="0.5">2+</tspan><tspan dy="3.6" dx="0"> </tspan>Signal Mass (F/F<tspan font-size="8.8" dy="4.8" dx="1">0</tspan><tspan dy="-4.8" dx="1.1" font-size="12">•</tspan><tspan dx="1.3">µm</tspan><tspan font-size="8.8" dy="-3.6" dx="0.6">2</tspan><tspan dy="3.6" dx="2" font-size="12">•</tspan><tspan dx="1.3">s)</tspan></text>
<text transform="translate(391.3,458.5) rotate(-90)" font-size="14" text-anchor="middle" fill="#231f20" stroke="#231f20" stroke-width="0.3">cyto-iATP</text>
<text transform="translate(408,541) rotate(-90)" font-size="14" fill="#231f20" stroke="#231f20" stroke-width="0.3">Signal Mass (F/F<tspan font-size="8.8" dy="4.8" dx="1">0</tspan><tspan dy="-4.8" dx="1.1" font-size="12">•</tspan><tspan dx="1.3">µm</tspan><tspan font-size="8.8" dy="-3.6" dx="0.6">2</tspan><tspan dy="3.6" dx="2" font-size="12">•</tspan><tspan dx="1.3">s)</tspan></text>
<rect x="626.9" y="411.1" width="5.6" height="5.6" fill="#4756ae"/>
<rect x="603.6" y="447.5" width="5.6" height="5.6" fill="#4756ae"/>
<rect x="583.9" y="478.2" width="5.6" height="5.6" fill="#4756ae"/>
<rect x="499.5" y="493.0" width="5.6" height="5.6" fill="#4756ae"/>
<rect x="502.6" y="494.1" width="5.6" height="5.6" fill="#4756ae"/>
<rect x="470.9" y="511.4" width="5.6" height="5.6" fill="#4756ae"/>
<rect x="469.1" y="517.4" width="5.6" height="5.6" fill="#4756ae"/>
<circle cx="653.0" cy="512.4" r="2.9" fill="#e8912d"/>
<circle cx="602.5" cy="507.5" r="2.9" fill="#e8912d"/>
<circle cx="605.4" cy="508.9" r="2.9" fill="#e8912d"/>
<circle cx="582.4" cy="510.3" r="2.9" fill="#e8912d"/>
<circle cx="543.6" cy="521.3" r="2.9" fill="#e8912d"/>
<circle cx="536.2" cy="520.2" r="2.9" fill="#e8912d"/>
<circle cx="516.7" cy="523.4" r="2.9" fill="#e8912d"/>
<circle cx="508.3" cy="525.5" r="2.9" fill="#e8912d"/>
<circle cx="503.0" cy="510.0" r="2.9" fill="#e8912d"/>
<circle cx="483.5" cy="523.0" r="2.9" fill="#e8912d"/>
<circle cx="467.7" cy="525.5" r="2.9" fill="#e8912d"/>
<path d="M473.7,514.2 L477.6,513.5 L481.5,512.7 L485.4,511.9 L489.3,511.1 L493.2,510.2 L497.1,509.3 L501.0,508.3 L504.9,507.3 L508.8,506.2 L512.7,505.0 L516.6,503.8 L520.5,502.6 L524.4,501.2 L528.3,499.8 L532.2,498.3 L536.1,496.8 L540.0,495.1 L543.9,493.4 L547.8,491.6 L551.7,489.7 L555.6,487.7 L559.5,485.5 L563.4,483.3 L567.3,480.9 L571.2,478.4 L575.1,475.8 L579.0,473.1 L582.9,470.2 L586.8,467.1 L590.7,463.9 L594.6,460.5 L598.5,456.9 L602.4,453.2 L606.3,449.2 L610.2,445.0 L614.1,440.6 L618.0,436.0 L621.9,431.1 L625.8,426.0 L629.7,420.6" fill="none" stroke="#15151c" stroke-width="1.6"/>
<path d="M467.7,522.0 L472.3,521.8 L477.0,521.6 L481.6,521.4 L486.3,521.2 L490.9,521.0 L495.6,520.8 L500.2,520.5 L504.9,520.3 L509.6,520.0 L514.2,519.8 L518.9,519.5 L523.5,519.2 L528.1,519.0 L532.8,518.7 L537.5,518.4 L542.1,518.0 L546.8,517.7 L551.4,517.4 L556.0,517.0 L560.7,516.7 L565.4,516.3 L570.0,515.9 L574.6,515.5 L579.3,515.1 L584.0,514.7 L588.6,514.3 L593.2,513.8 L597.9,513.4 L602.6,512.9 L607.2,512.4 L611.9,511.9 L616.5,511.3 L621.2,510.8 L625.8,510.2 L630.5,509.6 L635.1,509.0 L639.8,508.4 L644.4,507.8 L649.1,507.1 L653.7,506.4" fill="none" stroke="#2e2519" stroke-width="1.6"/>
<text x="600.2" y="396" font-size="14" fill="#5561ad">High-gain</text>
<text x="626.9" y="483.9" font-size="14" fill="#e29a4e">Low-gain</text>
<path d="M92.6,617.4 L92.6,788.6 L206.6,788.6" fill="none" stroke="#231f20" stroke-width="1.5" stroke-linecap="square"/>
<line x1="86.1" y1="617.4" x2="92.6" y2="617.4" stroke="#231f20" stroke-width="1.5"/>
<text x="82.6" y="622.4" font-size="14" text-anchor="end" fill="#231f20" stroke="#231f20" stroke-width="0.3">15000</text>
<line x1="86.1" y1="660.2" x2="92.6" y2="660.2" stroke="#231f20" stroke-width="1.5"/>
<text x="82.6" y="665.2" font-size="14" text-anchor="end" fill="#231f20" stroke="#231f20" stroke-width="0.3">10000</text>
<line x1="86.1" y1="703" x2="92.6" y2="703" stroke="#231f20" stroke-width="1.5"/>
<text x="82.6" y="708" font-size="14" text-anchor="end" fill="#231f20" stroke="#231f20" stroke-width="0.3">5000</text>
<line x1="86.1" y1="745.8" x2="92.6" y2="745.8" stroke="#231f20" stroke-width="1.5"/>
<text x="82.6" y="750.8" font-size="14" text-anchor="end" fill="#231f20" stroke="#231f20" stroke-width="0.3">0</text>
<line x1="86.1" y1="788.6" x2="92.6" y2="788.6" stroke="#231f20" stroke-width="1.5"/>
<text x="82.6" y="793.6" font-size="14" text-anchor="end" fill="#231f20" stroke="#231f20" stroke-width="0.3">-5000</text>
<line x1="92.6" y1="745.8" x2="207.6" y2="745.8" stroke="#505050" stroke-width="1.2" stroke-dasharray="1.2 1.1"/>
<line x1="124.9" y1="788.6" x2="124.9" y2="795.6" stroke="#231f20" stroke-width="1.5"/>
<text transform="translate(127.5,804.8000000000001) rotate(-45)" font-size="14" text-anchor="end" fill="#231f20" stroke="#231f20" stroke-width="0.3">High-gain</text>
<line x1="174.4" y1="788.6" x2="174.4" y2="795.6" stroke="#231f20" stroke-width="1.5"/>
<text transform="translate(177.0,804.8000000000001) rotate(-45)" font-size="14" text-anchor="end" fill="#231f20" stroke="#231f20" stroke-width="0.3">Low-gain</text>
<defs><linearGradient id="vg1" x1="0" y1="0" x2="0" y2="1"><stop offset="0" stop-color="#4756ae" stop-opacity="0.15"/><stop offset="0.09" stop-color="#4756ae" stop-opacity="1"/><stop offset="0.9299999999999999" stop-color="#4756ae" stop-opacity="1"/><stop offset="1" stop-color="#4756ae" stop-opacity="0.15"/></linearGradient></defs>
<path d="M125.2,667.0 C125.2,667.8 125.0,670.6 125.0,672.0 C124.9,673.4 124.8,674.5 124.6,675.5 C124.4,676.5 124.2,677.5 123.8,678.4 C123.4,679.3 123.0,680.1 122.3,681.2 C121.6,682.3 120.5,684.0 119.5,685.4 C118.5,686.8 117.0,688.1 116.1,689.7 C115.2,691.3 114.1,693.7 113.7,695.3 C113.3,696.9 113.2,698.1 113.3,699.5 C113.4,700.9 113.7,702.4 114.3,703.8 C114.9,705.2 116.4,706.6 117.3,708.0 C118.2,709.4 119.6,711.2 120.2,712.3 C120.8,713.4 120.8,714.1 120.9,715.0 C121.0,715.9 121.1,717.1 121.1,717.9 C121.1,718.7 121.1,719.3 121.0,720.0 C120.9,720.7 121.1,721.3 120.5,722.1 C119.9,722.9 118.6,724.1 117.5,725.0 C116.4,725.9 114.7,726.8 113.5,727.8 C112.3,728.8 111.0,730.3 110.3,731.3 C109.6,732.3 109.6,733.1 109.4,734.0 C109.2,734.9 109.1,736.1 109.1,737.0 C109.1,737.9 109.2,738.7 109.4,739.5 C109.6,740.3 109.9,741.1 110.3,741.9 C110.7,742.7 111.3,743.5 111.9,744.2 C112.5,744.9 113.4,745.5 114.3,746.2 C115.2,746.9 116.6,747.8 117.5,748.4 C118.4,749.0 119.0,749.4 119.7,750.0 C120.4,750.6 121.1,751.4 121.6,752.0 C122.1,752.6 122.5,753.3 122.9,754.0 C123.3,754.7 123.6,755.7 123.9,756.5 C124.2,757.3 124.3,757.7 124.5,759.0 C124.7,760.3 125.1,763.6 125.2,764.5 L125.4,764.5 C125.5,763.6 125.9,760.3 126.1,759.0 C126.3,757.7 126.4,757.3 126.7,756.5 C127.0,755.7 127.3,754.7 127.7,754.0 C128.1,753.3 128.5,752.6 129.0,752.0 C129.5,751.4 130.2,750.6 130.9,750.0 C131.6,749.4 132.2,749.0 133.1,748.4 C134.0,747.8 135.4,746.9 136.3,746.2 C137.2,745.5 138.1,744.9 138.7,744.2 C139.3,743.5 139.9,742.7 140.3,741.9 C140.7,741.1 141.0,740.3 141.2,739.5 C141.4,738.7 141.5,737.9 141.5,737.0 C141.5,736.1 141.4,734.9 141.2,734.0 C141.0,733.1 141.0,732.3 140.3,731.3 C139.6,730.3 138.3,728.8 137.1,727.8 C135.9,726.8 134.2,725.9 133.1,725.0 C132.0,724.1 130.7,722.9 130.1,722.1 C129.5,721.3 129.7,720.7 129.6,720.0 C129.5,719.3 129.5,718.7 129.5,717.9 C129.5,717.1 129.6,715.9 129.7,715.0 C129.8,714.1 129.8,713.4 130.4,712.3 C131.0,711.2 132.4,709.4 133.3,708.0 C134.2,706.6 135.7,705.2 136.3,703.8 C136.9,702.4 137.2,700.9 137.3,699.5 C137.4,698.1 137.3,696.9 136.9,695.3 C136.5,693.7 135.4,691.3 134.5,689.7 C133.6,688.1 132.1,686.8 131.1,685.4 C130.1,684.0 129.0,682.3 128.3,681.2 C127.6,680.1 127.2,679.3 126.8,678.4 C126.4,677.5 126.2,676.5 126.0,675.5 C125.8,674.5 125.7,673.4 125.6,672.0 C125.6,670.6 125.4,667.8 125.4,667.0Z" fill="url(#vg1)"/>
<line x1="113.6" y1="700" x2="137.0" y2="700" stroke="#0d0d10" stroke-opacity="0.8" stroke-width="1.3"/>
<line x1="110.3" y1="731.6" x2="140.3" y2="731.6" stroke="#0d0d10" stroke-opacity="0.8" stroke-width="1.3"/>
<line x1="110.5" y1="741.4" x2="140.1" y2="741.4" stroke="#0d0d10" stroke-opacity="0.8" stroke-width="1.3"/>
<defs><linearGradient id="vg2" x1="0" y1="0" x2="0" y2="1"><stop offset="0" stop-color="#e8912d" stop-opacity="0.15"/><stop offset="0.09" stop-color="#e8912d" stop-opacity="1"/><stop offset="0.9299999999999999" stop-color="#e8912d" stop-opacity="1"/><stop offset="1" stop-color="#e8912d" stop-opacity="0.15"/></linearGradient></defs>
<path d="M174.2,664.2 C174.2,664.8 174.1,666.6 174.0,668.0 C173.9,669.4 173.9,671.3 173.7,672.7 C173.5,674.1 173.2,675.6 172.8,677.0 C172.4,678.4 172.0,679.4 171.5,681.2 C171.0,683.0 170.0,685.9 169.4,688.2 C168.8,690.5 168.0,693.3 167.5,695.3 C167.0,697.3 166.3,699.6 166.3,701.0 C166.3,702.4 166.8,702.9 167.3,703.8 C167.8,704.7 169.2,705.7 169.4,706.6 C169.6,707.5 169.5,708.3 168.8,709.4 C168.1,710.5 166.5,711.9 165.1,713.7 C163.7,715.5 161.2,719.1 160.2,720.7 C159.2,722.3 159.2,722.9 158.9,724.0 C158.6,725.1 158.4,726.3 158.3,727.8 C158.2,729.3 158.2,731.7 158.3,733.4 C158.4,735.1 158.7,737.0 159.2,738.4 C159.7,739.8 160.6,740.9 161.3,741.9 C162.0,742.9 162.8,743.7 163.7,744.7 C164.6,745.7 165.9,747.2 166.8,748.3 C167.7,749.4 168.6,750.8 169.4,751.8 C170.2,752.8 170.9,753.7 171.5,754.6 C172.1,755.5 172.5,756.4 172.9,757.5 C173.3,758.6 174.0,761.0 174.2,761.7 L174.4,761.7 C174.6,761.0 175.3,758.6 175.7,757.5 C176.1,756.4 176.5,755.5 177.1,754.6 C177.7,753.7 178.4,752.8 179.2,751.8 C180.0,750.8 180.9,749.4 181.8,748.3 C182.7,747.2 184.0,745.7 184.9,744.7 C185.8,743.7 186.6,742.9 187.3,741.9 C188.0,740.9 188.9,739.8 189.4,738.4 C189.9,737.0 190.2,735.1 190.3,733.4 C190.4,731.7 190.4,729.3 190.3,727.8 C190.2,726.3 190.0,725.1 189.7,724.0 C189.4,722.9 189.4,722.3 188.4,720.7 C187.4,719.1 184.9,715.5 183.5,713.7 C182.1,711.9 180.5,710.5 179.8,709.4 C179.1,708.3 179.0,707.5 179.2,706.6 C179.4,705.7 180.8,704.7 181.3,703.8 C181.8,702.9 182.3,702.4 182.3,701.0 C182.3,699.6 181.6,697.3 181.1,695.3 C180.6,693.3 179.8,690.5 179.2,688.2 C178.6,685.9 177.6,683.0 177.1,681.2 C176.6,679.4 176.2,678.4 175.8,677.0 C175.4,675.6 175.1,674.1 174.9,672.7 C174.7,671.3 174.7,669.4 174.6,668.0 C174.5,666.6 174.4,664.8 174.4,664.2Z" fill="url(#vg2)"/>
<line x1="166.5" y1="701" x2="182.10000000000002" y2="701" stroke="#0d0d10" stroke-opacity="0.8" stroke-width="1.3"/>
<line x1="158.60000000000002" y1="727.7" x2="190.0" y2="727.7" stroke="#0d0d10" stroke-opacity="0.8" stroke-width="1.3"/>
<line x1="159.4" y1="738.3" x2="189.20000000000002" y2="738.3" stroke="#0d0d10" stroke-opacity="0.8" stroke-width="1.3"/>
<text transform="translate(15.9,753.2) rotate(-90)" font-size="14" fill="#231f20" stroke="#231f20" stroke-width="0.3">Ca<tspan font-size="8.8" dy="-3.6" dx="0.5">2+</tspan><tspan dy="3.6" dx="0"> </tspan>Signal Mass</text>
<text transform="translate(32.4,748.3) rotate(-90)" font-size="14" fill="#231f20" stroke="#231f20" stroke-width="0.3">Rate (F/F<tspan font-size="8.8" dy="4.8" dx="1">0</tspan><tspan dy="-4.8" dx="1.1" font-size="12">•</tspan><tspan dx="1.3">µm</tspan><tspan font-size="8.8" dy="-3.6" dx="0.6">2</tspan><tspan dy="3.6" dx="0.5">)</tspan></text>
<path d="M459,616.3 L459,787.8 L573.2,787.8" fill="none" stroke="#231f20" stroke-width="1.5" stroke-linecap="square"/>
<line x1="452.5" y1="616.3" x2="459" y2="616.3" stroke="#231f20" stroke-width="1.5"/>
<text x="448.2" y="621.3" font-size="14" text-anchor="end" fill="#231f20" stroke="#231f20" stroke-width="0.3">15000</text>
<line x1="452.5" y1="659.2" x2="459" y2="659.2" stroke="#231f20" stroke-width="1.5"/>
<text x="448.2" y="664.2" font-size="14" text-anchor="end" fill="#231f20" stroke="#231f20" stroke-width="0.3">10000</text>
<line x1="452.5" y1="702" x2="459" y2="702" stroke="#231f20" stroke-width="1.5"/>
<text x="448.2" y="707" font-size="14" text-anchor="end" fill="#231f20" stroke="#231f20" stroke-width="0.3">5000</text>
<line x1="452.5" y1="744.9" x2="459" y2="744.9" stroke="#231f20" stroke-width="1.5"/>
<text x="448.2" y="749.9" font-size="14" text-anchor="end" fill="#231f20" stroke="#231f20" stroke-width="0.3">0</text>
<line x1="452.5" y1="787.8" x2="459" y2="787.8" stroke="#231f20" stroke-width="1.5"/>
<text x="448.2" y="792.8" font-size="14" text-anchor="end" fill="#231f20" stroke="#231f20" stroke-width="0.3">-5000</text>
<line x1="459" y1="744.9" x2="574.2" y2="744.9" stroke="#505050" stroke-width="1.2" stroke-dasharray="1.2 1.1"/>
<line x1="491.5" y1="787.8" x2="491.5" y2="794.8" stroke="#231f20" stroke-width="1.5"/>
<text transform="translate(494.1,804.0) rotate(-45)" font-size="14" text-anchor="end" fill="#231f20" stroke="#231f20" stroke-width="0.3">High-gain</text>
<line x1="540.6" y1="787.8" x2="540.6" y2="794.8" stroke="#231f20" stroke-width="1.5"/>
<text transform="translate(543.2,804.0) rotate(-45)" font-size="14" text-anchor="end" fill="#231f20" stroke="#231f20" stroke-width="0.3">Low-gain</text>
<defs><linearGradient id="vg3" x1="0" y1="0" x2="0" y2="1"><stop offset="0" stop-color="#4756ae" stop-opacity="0.15"/><stop offset="0.09" stop-color="#4756ae" stop-opacity="1"/><stop offset="0.9299999999999999" stop-color="#4756ae" stop-opacity="1"/><stop offset="1" stop-color="#4756ae" stop-opacity="0.15"/></linearGradient></defs>
<path d="M491.6,653.2 C491.5,654.0 491.4,656.7 491.3,658.0 C491.2,659.3 491.1,660.3 490.9,661.4 C490.7,662.5 490.8,663.4 490.3,664.7 C489.8,666.0 488.6,668.0 488.0,669.6 C487.4,671.2 487.0,673.0 486.8,674.6 C486.6,676.2 486.6,677.9 486.8,679.5 C487.0,681.1 487.6,683.1 487.8,684.5 C488.0,685.9 487.9,687.0 487.8,688.0 C487.7,689.0 487.5,689.2 487.3,691.0 C487.1,692.8 486.7,696.9 486.3,699.3 C485.9,701.7 485.5,703.8 484.7,705.9 C483.9,708.0 482.6,710.4 481.4,712.5 C480.2,714.6 478.2,716.8 477.3,719.0 C476.4,721.2 476.0,724.5 475.7,726.4 C475.4,728.3 475.2,728.9 475.5,730.6 C475.8,732.3 476.4,735.0 477.3,736.8 C478.2,738.6 480.2,740.5 481.4,742.1 C482.6,743.7 483.7,745.4 484.9,747.0 C486.1,748.6 487.8,750.7 488.7,752.0 C489.6,753.3 489.9,754.0 490.3,755.3 C490.7,756.6 491.0,758.2 491.2,760.0 C491.4,761.8 491.5,765.7 491.6,766.8 L491.8,766.8 C491.9,765.7 492.0,761.8 492.2,760.0 C492.4,758.2 492.7,756.6 493.1,755.3 C493.5,754.0 493.8,753.3 494.7,752.0 C495.6,750.7 497.3,748.6 498.5,747.0 C499.7,745.4 500.8,743.7 502.0,742.1 C503.2,740.5 505.2,738.6 506.1,736.8 C507.0,735.0 507.6,732.3 507.9,730.6 C508.2,728.9 508.0,728.3 507.7,726.4 C507.4,724.5 507.0,721.2 506.1,719.0 C505.2,716.8 503.2,714.6 502.0,712.5 C500.8,710.4 499.5,708.0 498.7,705.9 C497.9,703.8 497.5,701.7 497.1,699.3 C496.7,696.9 496.3,692.8 496.1,691.0 C495.9,689.2 495.7,689.0 495.6,688.0 C495.5,687.0 495.4,685.9 495.6,684.5 C495.8,683.1 496.4,681.1 496.6,679.5 C496.8,677.9 496.8,676.2 496.6,674.6 C496.4,673.0 496.0,671.2 495.4,669.6 C494.8,668.0 493.6,666.0 493.1,664.7 C492.6,663.4 492.7,662.5 492.5,661.4 C492.3,660.3 492.2,659.3 492.1,658.0 C492.0,656.7 491.9,654.0 491.8,653.2Z" fill="url(#vg3)"/>
<line x1="486.4" y1="699.3" x2="497.0" y2="699.3" stroke="#0d0d10" stroke-opacity="0.8" stroke-width="1.3"/>
<line x1="475.9" y1="726.4" x2="507.5" y2="726.4" stroke="#0d0d10" stroke-opacity="0.8" stroke-width="1.3"/>
<line x1="477.5" y1="736.8" x2="505.9" y2="736.8" stroke="#0d0d10" stroke-opacity="0.8" stroke-width="1.3"/>
<defs><linearGradient id="vg4" x1="0" y1="0" x2="0" y2="1"><stop offset="0" stop-color="#e8912d" stop-opacity="0.15"/><stop offset="0.09" stop-color="#e8912d" stop-opacity="1"/><stop offset="0.9299999999999999" stop-color="#e8912d" stop-opacity="1"/><stop offset="1" stop-color="#e8912d" stop-opacity="0.15"/></linearGradient></defs>
<path d="M540.4,729.7 C540.0,730.0 538.9,730.8 537.7,731.3 C536.5,731.8 533.8,732.5 532.7,733.0 C531.6,733.5 530.7,733.8 530.8,734.2 C530.9,734.6 532.2,735.0 533.2,735.4 C534.2,735.8 536.3,736.4 537.1,736.8 C537.9,737.2 538.3,737.6 538.2,738.0 C538.1,738.4 537.6,738.9 536.2,739.3 C534.8,739.7 531.5,740.1 529.7,740.6 C527.9,741.1 525.3,741.9 525.1,742.4 C524.9,742.9 527.0,743.3 528.7,743.8 C530.4,744.3 533.8,744.9 535.7,745.4 C537.6,745.9 539.6,746.7 540.3,747.0 L541.1,747.0 C541.8,746.7 543.8,745.9 545.7,745.4 C547.6,744.9 551.0,744.3 552.7,743.8 C554.4,743.3 556.5,742.9 556.3,742.4 C556.1,741.9 553.5,741.1 551.7,740.6 C549.9,740.1 546.6,739.7 545.2,739.3 C543.8,738.9 543.3,738.4 543.2,738.0 C543.1,737.6 543.5,737.2 544.3,736.8 C545.1,736.4 547.2,735.8 548.2,735.4 C549.2,735.0 550.5,734.6 550.6,734.2 C550.7,733.8 549.8,733.5 548.7,733.0 C547.6,732.5 544.9,731.8 543.7,731.3 C542.5,730.8 541.4,730.0 541.0,729.7Z" fill="url(#vg4)"/>
<line x1="531.1" y1="734.2" x2="550.3000000000001" y2="734.2" stroke="#0d0d10" stroke-opacity="0.8" stroke-width="1.3"/>
<line x1="525.5" y1="742.6" x2="555.9000000000001" y2="742.6" stroke="#0d0d10" stroke-opacity="0.8" stroke-width="1.3"/>
<line x1="495.4" y1="628.8" x2="539.8" y2="628.8" stroke="#1a1a1a" stroke-width="1.3"/>
<text x="516" y="631.3" font-size="26" font-weight="bold" text-anchor="middle" fill="#111" stroke="#111" stroke-width="0.3">*</text>
<text transform="translate(378.3,699.2) rotate(-90)" font-size="14.3" text-anchor="middle" fill="#231f20" stroke="#231f20" stroke-width="0.3">cyto-iATP Signal Mass</text>
<text transform="translate(395.8,748.6) rotate(-90)" font-size="14" fill="#231f20" stroke="#231f20" stroke-width="0.3">Rate (F/F<tspan font-size="8.8" dy="4.8" dx="1">0</tspan><tspan dy="-4.8" dx="1.1" font-size="12">•</tspan><tspan dx="1.3">µm</tspan><tspan font-size="8.8" dy="-3.6" dx="0.6">2</tspan><tspan dy="3.6" dx="0.5">)</tspan></text>
</g>
</svg>
</body></html>
